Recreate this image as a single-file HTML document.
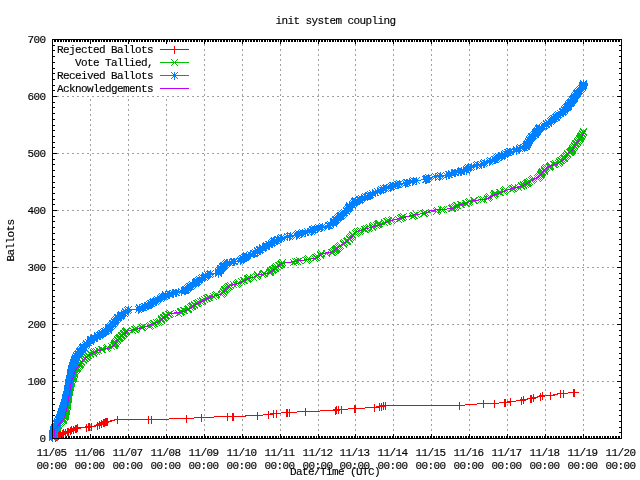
<!DOCTYPE html>
<html><head><meta charset="utf-8"><title>init system coupling</title>
<style>
html,body{margin:0;padding:0;background:#fff;}
body{width:640px;height:480px;position:relative;overflow:hidden;}
.t{position:absolute;font-family:"Liberation Mono",monospace;font-size:11px;line-height:13px;height:13px;color:#000;white-space:pre;letter-spacing:-0.6px;-webkit-text-stroke:0.15px #000;}
</style></head><body>
<svg width="640" height="480" viewBox="0 0 640 480" style="position:absolute;left:0;top:0" shape-rendering="crispEdges">
<rect x="0" y="0" width="640" height="480" fill="#fff"/>
<path d="M90.5 39V438M128.5 39V438M166.5 39V438M204.5 39V438M242.5 39V438M280.5 39V438M318.5 39V438M355.5 39V438M393.5 39V438M431.5 39V438M469.5 39V438M507.5 39V438M545.5 39V438M583.5 39V438" stroke="#a0a0a0" stroke-width="1" fill="none" stroke-dasharray="2 3"/>
<path d="M52 381.5H621M52 324.5H621M52 267.5H621M52 210.5H621M52 153.5H621M52 96.5H621" stroke="#a0a0a0" stroke-width="1" fill="none" stroke-dasharray="2 3"/>
<rect x="53" y="40" width="147" height="56" fill="#fff"/>
<path d="M52.5 40v4M52.5 434v4M54.5 40v2M54.5 436v2M55.5 40v2M55.5 436v2M57.5 40v2M57.5 436v2M58.5 40v2M58.5 436v2M60.5 40v2M60.5 436v2M61.5 40v2M61.5 436v2M63.5 40v2M63.5 436v2M65.5 40v2M65.5 436v2M66.5 40v2M66.5 436v2M68.5 40v2M68.5 436v2M69.5 40v2M69.5 436v2M71.5 40v2M71.5 436v2M73.5 40v2M73.5 436v2M74.5 40v2M74.5 436v2M76.5 40v2M76.5 436v2M77.5 40v2M77.5 436v2M79.5 40v2M79.5 436v2M80.5 40v2M80.5 436v2M82.5 40v2M82.5 436v2M84.5 40v2M84.5 436v2M85.5 40v2M85.5 436v2M87.5 40v2M87.5 436v2M88.5 40v2M88.5 436v2M90.5 40v4M90.5 434v4M92.5 40v2M92.5 436v2M93.5 40v2M93.5 436v2M95.5 40v2M95.5 436v2M96.5 40v2M96.5 436v2M98.5 40v2M98.5 436v2M99.5 40v2M99.5 436v2M101.5 40v2M101.5 436v2M103.5 40v2M103.5 436v2M104.5 40v2M104.5 436v2M106.5 40v2M106.5 436v2M107.5 40v2M107.5 436v2M109.5 40v2M109.5 436v2M110.5 40v2M110.5 436v2M112.5 40v2M112.5 436v2M114.5 40v2M114.5 436v2M115.5 40v2M115.5 436v2M117.5 40v2M117.5 436v2M118.5 40v2M118.5 436v2M120.5 40v2M120.5 436v2M122.5 40v2M122.5 436v2M123.5 40v2M123.5 436v2M125.5 40v2M125.5 436v2M126.5 40v2M126.5 436v2M128.5 40v4M128.5 434v4M129.5 40v2M129.5 436v2M131.5 40v2M131.5 436v2M133.5 40v2M133.5 436v2M134.5 40v2M134.5 436v2M136.5 40v2M136.5 436v2M137.5 40v2M137.5 436v2M139.5 40v2M139.5 436v2M141.5 40v2M141.5 436v2M142.5 40v2M142.5 436v2M144.5 40v2M144.5 436v2M145.5 40v2M145.5 436v2M147.5 40v2M147.5 436v2M148.5 40v2M148.5 436v2M150.5 40v2M150.5 436v2M152.5 40v2M152.5 436v2M153.5 40v2M153.5 436v2M155.5 40v2M155.5 436v2M156.5 40v2M156.5 436v2M158.5 40v2M158.5 436v2M159.5 40v2M159.5 436v2M161.5 40v2M161.5 436v2M163.5 40v2M163.5 436v2M164.5 40v2M164.5 436v2M166.5 40v4M166.5 434v4M167.5 40v2M167.5 436v2M169.5 40v2M169.5 436v2M171.5 40v2M171.5 436v2M172.5 40v2M172.5 436v2M174.5 40v2M174.5 436v2M175.5 40v2M175.5 436v2M177.5 40v2M177.5 436v2M178.5 40v2M178.5 436v2M180.5 40v2M180.5 436v2M182.5 40v2M182.5 436v2M183.5 40v2M183.5 436v2M185.5 40v2M185.5 436v2M186.5 40v2M186.5 436v2M188.5 40v2M188.5 436v2M190.5 40v2M190.5 436v2M191.5 40v2M191.5 436v2M193.5 40v2M193.5 436v2M194.5 40v2M194.5 436v2M196.5 40v2M196.5 436v2M197.5 40v2M197.5 436v2M199.5 40v2M199.5 436v2M201.5 40v2M201.5 436v2M202.5 40v2M202.5 436v2M204.5 40v4M204.5 434v4M205.5 40v2M205.5 436v2M207.5 40v2M207.5 436v2M208.5 40v2M208.5 436v2M210.5 40v2M210.5 436v2M212.5 40v2M212.5 436v2M213.5 40v2M213.5 436v2M215.5 40v2M215.5 436v2M216.5 40v2M216.5 436v2M218.5 40v2M218.5 436v2M220.5 40v2M220.5 436v2M221.5 40v2M221.5 436v2M223.5 40v2M223.5 436v2M224.5 40v2M224.5 436v2M226.5 40v2M226.5 436v2M227.5 40v2M227.5 436v2M229.5 40v2M229.5 436v2M231.5 40v2M231.5 436v2M232.5 40v2M232.5 436v2M234.5 40v2M234.5 436v2M235.5 40v2M235.5 436v2M237.5 40v2M237.5 436v2M239.5 40v2M239.5 436v2M240.5 40v2M240.5 436v2M242.5 40v4M242.5 434v4M243.5 40v2M243.5 436v2M245.5 40v2M245.5 436v2M246.5 40v2M246.5 436v2M248.5 40v2M248.5 436v2M250.5 40v2M250.5 436v2M251.5 40v2M251.5 436v2M253.5 40v2M253.5 436v2M254.5 40v2M254.5 436v2M256.5 40v2M256.5 436v2M257.5 40v2M257.5 436v2M259.5 40v2M259.5 436v2M261.5 40v2M261.5 436v2M262.5 40v2M262.5 436v2M264.5 40v2M264.5 436v2M265.5 40v2M265.5 436v2M267.5 40v2M267.5 436v2M269.5 40v2M269.5 436v2M270.5 40v2M270.5 436v2M272.5 40v2M272.5 436v2M273.5 40v2M273.5 436v2M275.5 40v2M275.5 436v2M276.5 40v2M276.5 436v2M278.5 40v2M278.5 436v2M280.5 40v4M280.5 434v4M281.5 40v2M281.5 436v2M283.5 40v2M283.5 436v2M284.5 40v2M284.5 436v2M286.5 40v2M286.5 436v2M288.5 40v2M288.5 436v2M289.5 40v2M289.5 436v2M291.5 40v2M291.5 436v2M292.5 40v2M292.5 436v2M294.5 40v2M294.5 436v2M295.5 40v2M295.5 436v2M297.5 40v2M297.5 436v2M299.5 40v2M299.5 436v2M300.5 40v2M300.5 436v2M302.5 40v2M302.5 436v2M303.5 40v2M303.5 436v2M305.5 40v2M305.5 436v2M306.5 40v2M306.5 436v2M308.5 40v2M308.5 436v2M310.5 40v2M310.5 436v2M311.5 40v2M311.5 436v2M313.5 40v2M313.5 436v2M314.5 40v2M314.5 436v2M316.5 40v2M316.5 436v2M318.5 40v4M318.5 434v4M319.5 40v2M319.5 436v2M321.5 40v2M321.5 436v2M322.5 40v2M322.5 436v2M324.5 40v2M324.5 436v2M325.5 40v2M325.5 436v2M327.5 40v2M327.5 436v2M329.5 40v2M329.5 436v2M330.5 40v2M330.5 436v2M332.5 40v2M332.5 436v2M333.5 40v2M333.5 436v2M335.5 40v2M335.5 436v2M337.5 40v2M337.5 436v2M338.5 40v2M338.5 436v2M340.5 40v2M340.5 436v2M341.5 40v2M341.5 436v2M343.5 40v2M343.5 436v2M344.5 40v2M344.5 436v2M346.5 40v2M346.5 436v2M348.5 40v2M348.5 436v2M349.5 40v2M349.5 436v2M351.5 40v2M351.5 436v2M352.5 40v2M352.5 436v2M354.5 40v2M354.5 436v2M355.5 40v4M355.5 434v4M357.5 40v2M357.5 436v2M359.5 40v2M359.5 436v2M360.5 40v2M360.5 436v2M362.5 40v2M362.5 436v2M363.5 40v2M363.5 436v2M365.5 40v2M365.5 436v2M367.5 40v2M367.5 436v2M368.5 40v2M368.5 436v2M370.5 40v2M370.5 436v2M371.5 40v2M371.5 436v2M373.5 40v2M373.5 436v2M374.5 40v2M374.5 436v2M376.5 40v2M376.5 436v2M378.5 40v2M378.5 436v2M379.5 40v2M379.5 436v2M381.5 40v2M381.5 436v2M382.5 40v2M382.5 436v2M384.5 40v2M384.5 436v2M385.5 40v2M385.5 436v2M387.5 40v2M387.5 436v2M389.5 40v2M389.5 436v2M390.5 40v2M390.5 436v2M392.5 40v2M392.5 436v2M393.5 40v4M393.5 434v4M395.5 40v2M395.5 436v2M397.5 40v2M397.5 436v2M398.5 40v2M398.5 436v2M400.5 40v2M400.5 436v2M401.5 40v2M401.5 436v2M403.5 40v2M403.5 436v2M404.5 40v2M404.5 436v2M406.5 40v2M406.5 436v2M408.5 40v2M408.5 436v2M409.5 40v2M409.5 436v2M411.5 40v2M411.5 436v2M412.5 40v2M412.5 436v2M414.5 40v2M414.5 436v2M416.5 40v2M416.5 436v2M417.5 40v2M417.5 436v2M419.5 40v2M419.5 436v2M420.5 40v2M420.5 436v2M422.5 40v2M422.5 436v2M423.5 40v2M423.5 436v2M425.5 40v2M425.5 436v2M427.5 40v2M427.5 436v2M428.5 40v2M428.5 436v2M430.5 40v2M430.5 436v2M431.5 40v4M431.5 434v4M433.5 40v2M433.5 436v2M434.5 40v2M434.5 436v2M436.5 40v2M436.5 436v2M438.5 40v2M438.5 436v2M439.5 40v2M439.5 436v2M441.5 40v2M441.5 436v2M442.5 40v2M442.5 436v2M444.5 40v2M444.5 436v2M446.5 40v2M446.5 436v2M447.5 40v2M447.5 436v2M449.5 40v2M449.5 436v2M450.5 40v2M450.5 436v2M452.5 40v2M452.5 436v2M453.5 40v2M453.5 436v2M455.5 40v2M455.5 436v2M457.5 40v2M457.5 436v2M458.5 40v2M458.5 436v2M460.5 40v2M460.5 436v2M461.5 40v2M461.5 436v2M463.5 40v2M463.5 436v2M465.5 40v2M465.5 436v2M466.5 40v2M466.5 436v2M468.5 40v2M468.5 436v2M469.5 40v4M469.5 434v4M471.5 40v2M471.5 436v2M472.5 40v2M472.5 436v2M474.5 40v2M474.5 436v2M476.5 40v2M476.5 436v2M477.5 40v2M477.5 436v2M479.5 40v2M479.5 436v2M480.5 40v2M480.5 436v2M482.5 40v2M482.5 436v2M483.5 40v2M483.5 436v2M485.5 40v2M485.5 436v2M487.5 40v2M487.5 436v2M488.5 40v2M488.5 436v2M490.5 40v2M490.5 436v2M491.5 40v2M491.5 436v2M493.5 40v2M493.5 436v2M495.5 40v2M495.5 436v2M496.5 40v2M496.5 436v2M498.5 40v2M498.5 436v2M499.5 40v2M499.5 436v2M501.5 40v2M501.5 436v2M502.5 40v2M502.5 436v2M504.5 40v2M504.5 436v2M506.5 40v2M506.5 436v2M507.5 40v4M507.5 434v4M509.5 40v2M509.5 436v2M510.5 40v2M510.5 436v2M512.5 40v2M512.5 436v2M514.5 40v2M514.5 436v2M515.5 40v2M515.5 436v2M517.5 40v2M517.5 436v2M518.5 40v2M518.5 436v2M520.5 40v2M520.5 436v2M521.5 40v2M521.5 436v2M523.5 40v2M523.5 436v2M525.5 40v2M525.5 436v2M526.5 40v2M526.5 436v2M528.5 40v2M528.5 436v2M529.5 40v2M529.5 436v2M531.5 40v2M531.5 436v2M532.5 40v2M532.5 436v2M534.5 40v2M534.5 436v2M536.5 40v2M536.5 436v2M537.5 40v2M537.5 436v2M539.5 40v2M539.5 436v2M540.5 40v2M540.5 436v2M542.5 40v2M542.5 436v2M544.5 40v2M544.5 436v2M545.5 40v4M545.5 434v4M547.5 40v2M547.5 436v2M548.5 40v2M548.5 436v2M550.5 40v2M550.5 436v2M551.5 40v2M551.5 436v2M553.5 40v2M553.5 436v2M555.5 40v2M555.5 436v2M556.5 40v2M556.5 436v2M558.5 40v2M558.5 436v2M559.5 40v2M559.5 436v2M561.5 40v2M561.5 436v2M563.5 40v2M563.5 436v2M564.5 40v2M564.5 436v2M566.5 40v2M566.5 436v2M567.5 40v2M567.5 436v2M569.5 40v2M569.5 436v2M570.5 40v2M570.5 436v2M572.5 40v2M572.5 436v2M574.5 40v2M574.5 436v2M575.5 40v2M575.5 436v2M577.5 40v2M577.5 436v2M578.5 40v2M578.5 436v2M580.5 40v2M580.5 436v2M581.5 40v2M581.5 436v2M583.5 40v4M583.5 434v4M585.5 40v2M585.5 436v2M586.5 40v2M586.5 436v2M588.5 40v2M588.5 436v2M589.5 40v2M589.5 436v2M591.5 40v2M591.5 436v2M593.5 40v2M593.5 436v2M594.5 40v2M594.5 436v2M596.5 40v2M596.5 436v2M597.5 40v2M597.5 436v2M599.5 40v2M599.5 436v2M600.5 40v2M600.5 436v2M602.5 40v2M602.5 436v2M604.5 40v2M604.5 436v2M605.5 40v2M605.5 436v2M607.5 40v2M607.5 436v2M608.5 40v2M608.5 436v2M610.5 40v2M610.5 436v2M612.5 40v2M612.5 436v2M613.5 40v2M613.5 436v2M615.5 40v2M615.5 436v2M616.5 40v2M616.5 436v2M618.5 40v2M618.5 436v2M619.5 40v2M619.5 436v2M621.5 40v4M621.5 434v4M53 438.5h4M617 438.5h4M53 432.5h2M619 432.5h2M53 427.5h2M619 427.5h2M53 421.5h2M619 421.5h2M53 415.5h2M619 415.5h2M53 410.5h2M619 410.5h2M53 404.5h2M619 404.5h2M53 398.5h2M619 398.5h2M53 392.5h2M619 392.5h2M53 387.5h2M619 387.5h2M53 381.5h4M617 381.5h4M53 375.5h2M619 375.5h2M53 370.5h2M619 370.5h2M53 364.5h2M619 364.5h2M53 358.5h2M619 358.5h2M53 353.5h2M619 353.5h2M53 347.5h2M619 347.5h2M53 341.5h2M619 341.5h2M53 335.5h2M619 335.5h2M53 330.5h2M619 330.5h2M53 324.5h4M617 324.5h4M53 318.5h2M619 318.5h2M53 313.5h2M619 313.5h2M53 307.5h2M619 307.5h2M53 301.5h2M619 301.5h2M53 296.5h2M619 296.5h2M53 290.5h2M619 290.5h2M53 284.5h2M619 284.5h2M53 278.5h2M619 278.5h2M53 273.5h2M619 273.5h2M53 267.5h4M617 267.5h4M53 261.5h2M619 261.5h2M53 256.5h2M619 256.5h2M53 250.5h2M619 250.5h2M53 244.5h2M619 244.5h2M53 239.5h2M619 239.5h2M53 233.5h2M619 233.5h2M53 227.5h2M619 227.5h2M53 221.5h2M619 221.5h2M53 216.5h2M619 216.5h2M53 210.5h4M617 210.5h4M53 204.5h2M619 204.5h2M53 199.5h2M619 199.5h2M53 193.5h2M619 193.5h2M53 187.5h2M619 187.5h2M53 182.5h2M619 182.5h2M53 176.5h2M619 176.5h2M53 170.5h2M619 170.5h2M53 164.5h2M619 164.5h2M53 159.5h2M619 159.5h2M53 153.5h4M617 153.5h4M53 147.5h2M619 147.5h2M53 142.5h2M619 142.5h2M53 136.5h2M619 136.5h2M53 130.5h2M619 130.5h2M53 125.5h2M619 125.5h2M53 119.5h2M619 119.5h2M53 113.5h2M619 113.5h2M53 107.5h2M619 107.5h2M53 102.5h2M619 102.5h2M53 96.5h4M617 96.5h4M53 90.5h2M619 90.5h2M53 85.5h2M619 85.5h2M53 79.5h2M619 79.5h2M53 73.5h2M619 73.5h2M53 68.5h2M619 68.5h2M53 62.5h2M619 62.5h2M53 56.5h2M619 56.5h2M53 50.5h2M619 50.5h2M53 45.5h2M619 45.5h2M53 39.5h4M617 39.5h4" stroke="#000" stroke-width="1" fill="none"/>
<path d="M55.5 437.5 L56.5 436.5 L57.5 435.5 L58.5 435.5 L59.5 434.5 L60.5 434.5 L62.5 433.5 L63.5 432.5 L65.5 432.5 L67.5 431.5 L68.5 431.5 L70.5 430.5 L71.5 429.5 L73.5 429.5 L75.5 428.5 L76.5 428.5 L77.5 427.5 L86.5 427.5 L88.5 426.5 L89.5 426.5 L91.5 426.5 L97.5 425.5 L99.5 424.5 L101.5 423.5 L103.5 422.5 L104.5 422.5 L105.5 421.5 L106.5 421.5 L107.5 421.5 L117.5 419.5 L148.5 419.5 L151.5 419.5 L186.5 418.5 L201.5 417.5 L227.5 416.5 L232.5 416.5 L233.5 416.5 L257.5 415.5 L268.5 414.5 L273.5 413.5 L276.5 413.5 L286.5 412.5 L287.5 412.5 L289.5 412.5 L305.5 411.5 L335.5 410.5 L336.5 409.5 L338.5 409.5 L341.5 409.5 L354.5 408.5 L355.5 408.5 L374.5 407.5 L379.5 406.5 L381.5 406.5 L383.5 405.5 L385.5 405.5 L459.5 405.5 L483.5 403.5 L494.5 403.5 L504.5 402.5 L505.5 402.5 L510.5 401.5 L521.5 400.5 L523.5 399.5 L530.5 398.5 L531.5 398.5 L533.5 397.5 L540.5 396.5 L542.5 395.5 L550.5 395.5 L560.5 393.5 L563.5 393.5 L573.5 392.5 L574.5 392.5" stroke="#ff0000" stroke-width="1" fill="none"/>
<path d="M52 437.5h7M55.5 434v7M53 436.5h7M56.5 433v7M54 435.5h7M57.5 432v7M55 435.5h7M58.5 432v7M56 434.5h7M59.5 431v7M57 434.5h7M60.5 431v7M59 433.5h7M62.5 430v7M60 432.5h7M63.5 429v7M62 432.5h7M65.5 429v7M64 431.5h7M67.5 428v7M65 431.5h7M68.5 428v7M67 430.5h7M70.5 427v7M68 429.5h7M71.5 426v7M70 429.5h7M73.5 426v7M72 428.5h7M75.5 425v7M73 428.5h7M76.5 425v7M74 427.5h7M77.5 424v7M83 427.5h7M86.5 424v7M85 426.5h7M88.5 423v7M86 426.5h7M89.5 423v7M88 426.5h7M91.5 423v7M94 425.5h7M97.5 422v7M96 424.5h7M99.5 421v7M98 423.5h7M101.5 420v7M100 422.5h7M103.5 419v7M101 422.5h7M104.5 419v7M102 421.5h7M105.5 418v7M103 421.5h7M106.5 418v7M104 421.5h7M107.5 418v7M114 419.5h7M117.5 416v7M145 419.5h7M148.5 416v7M148 419.5h7M151.5 416v7M183 418.5h7M186.5 415v7M198 417.5h7M201.5 414v7M224 416.5h7M227.5 413v7M229 416.5h7M232.5 413v7M230 416.5h7M233.5 413v7M254 415.5h7M257.5 412v7M265 414.5h7M268.5 411v7M270 413.5h7M273.5 410v7M273 413.5h7M276.5 410v7M283 412.5h7M286.5 409v7M284 412.5h7M287.5 409v7M286 412.5h7M289.5 409v7M302 411.5h7M305.5 408v7M332 410.5h7M335.5 407v7M333 409.5h7M336.5 406v7M335 409.5h7M338.5 406v7M338 409.5h7M341.5 406v7M351 408.5h7M354.5 405v7M352 408.5h7M355.5 405v7M371 407.5h7M374.5 404v7M376 406.5h7M379.5 403v7M378 406.5h7M381.5 403v7M380 405.5h7M383.5 402v7M382 405.5h7M385.5 402v7M456 405.5h7M459.5 402v7M480 403.5h7M483.5 400v7M491 403.5h7M494.5 400v7M501 402.5h7M504.5 399v7M502 402.5h7M505.5 399v7M507 401.5h7M510.5 398v7M518 400.5h7M521.5 397v7M520 399.5h7M523.5 396v7M527 398.5h7M530.5 395v7M528 398.5h7M531.5 395v7M530 397.5h7M533.5 394v7M537 396.5h7M540.5 393v7M539 395.5h7M542.5 392v7M547 395.5h7M550.5 392v7M557 393.5h7M560.5 390v7M560 393.5h7M563.5 390v7M570 392.5h7M573.5 389v7M571 392.5h7M574.5 389v7" stroke="#ff0000" stroke-width="1" fill="none" stroke-linecap="square"/>
<path d="M54.5 437.5 L54.5 436.5 L54.5 435.5 L54.5 434.5 L54.5 433.5 L54.5 432.5 L54.5 431.5 L54.5 430.5 L54.5 429.5 L55.5 428.5 L56.5 427.5 L57.5 427.5 L57.5 426.5 L57.5 425.5 L58.5 425.5 L58.5 424.5 L59.5 423.5 L60.5 422.5 L61.5 421.5 L62.5 420.5 L63.5 420.5 L63.5 419.5 L63.5 418.5 L64.5 417.5 L64.5 416.5 L65.5 416.5 L65.5 415.5 L65.5 414.5 L65.5 413.5 L65.5 412.5 L65.5 411.5 L66.5 411.5 L66.5 410.5 L66.5 409.5 L66.5 408.5 L66.5 407.5 L67.5 406.5 L67.5 405.5 L67.5 404.5 L67.5 403.5 L67.5 402.5 L67.5 401.5 L67.5 400.5 L68.5 399.5 L68.5 398.5 L68.5 397.5 L68.5 396.5 L68.5 395.5 L68.5 394.5 L68.5 393.5 L69.5 392.5 L69.5 391.5 L69.5 390.5 L69.5 389.5 L69.5 388.5 L69.5 387.5 L70.5 387.5 L70.5 386.5 L70.5 385.5 L70.5 384.5 L70.5 383.5 L71.5 383.5 L71.5 382.5 L71.5 381.5 L71.5 380.5 L72.5 379.5 L72.5 378.5 L73.5 378.5 L73.5 377.5 L73.5 376.5 L73.5 375.5 L74.5 374.5 L74.5 373.5 L74.5 372.5 L74.5 371.5 L75.5 370.5 L76.5 369.5 L76.5 368.5 L77.5 368.5 L77.5 367.5 L78.5 366.5 L79.5 365.5 L79.5 364.5 L80.5 364.5 L80.5 363.5 L81.5 362.5 L81.5 361.5 L83.5 360.5 L83.5 359.5 L84.5 358.5 L85.5 358.5 L86.5 357.5 L86.5 356.5 L87.5 355.5 L88.5 355.5 L90.5 354.5 L90.5 353.5 L93.5 353.5 L93.5 352.5 L94.5 351.5 L96.5 351.5 L98.5 350.5 L101.5 349.5 L102.5 349.5 L106.5 348.5 L107.5 347.5 L111.5 346.5 L113.5 345.5 L114.5 345.5 L114.5 344.5 L114.5 343.5 L115.5 343.5 L115.5 342.5 L116.5 341.5 L117.5 340.5 L117.5 339.5 L118.5 338.5 L119.5 338.5 L119.5 337.5 L120.5 337.5 L121.5 336.5 L121.5 335.5 L122.5 335.5 L123.5 334.5 L123.5 333.5 L124.5 333.5 L125.5 332.5 L125.5 331.5 L126.5 331.5 L126.5 330.5 L132.5 330.5 L134.5 329.5 L135.5 329.5 L136.5 328.5 L141.5 327.5 L142.5 327.5 L143.5 326.5 L149.5 326.5 L150.5 325.5 L152.5 324.5 L153.5 323.5 L154.5 323.5 L156.5 322.5 L158.5 322.5 L159.5 321.5 L161.5 320.5 L161.5 319.5 L161.5 318.5 L163.5 318.5 L163.5 317.5 L164.5 317.5 L165.5 316.5 L165.5 315.5 L166.5 315.5 L168.5 314.5 L169.5 314.5 L170.5 313.5 L178.5 313.5 L180.5 312.5 L180.5 311.5 L181.5 311.5 L183.5 310.5 L184.5 310.5 L187.5 309.5 L188.5 309.5 L188.5 308.5 L190.5 307.5 L191.5 306.5 L192.5 306.5 L192.5 305.5 L194.5 305.5 L194.5 304.5 L196.5 303.5 L197.5 303.5 L198.5 302.5 L200.5 301.5 L202.5 301.5 L202.5 300.5 L204.5 299.5 L206.5 298.5 L207.5 298.5 L208.5 297.5 L209.5 297.5 L213.5 296.5 L215.5 295.5 L216.5 294.5 L221.5 294.5 L222.5 293.5 L223.5 292.5 L223.5 291.5 L224.5 290.5 L224.5 289.5 L225.5 289.5 L226.5 288.5 L227.5 287.5 L228.5 286.5 L229.5 286.5 L230.5 285.5 L233.5 284.5 L236.5 284.5 L237.5 283.5 L238.5 282.5 L241.5 281.5 L243.5 280.5 L244.5 280.5 L247.5 279.5 L247.5 278.5 L248.5 278.5 L249.5 277.5 L253.5 277.5 L256.5 276.5 L257.5 275.5 L257.5 274.5 L262.5 274.5 L263.5 273.5 L264.5 273.5 L269.5 272.5 L270.5 272.5 L270.5 271.5 L270.5 270.5 L272.5 270.5 L272.5 269.5 L273.5 269.5 L274.5 268.5 L275.5 268.5 L275.5 267.5 L276.5 266.5 L278.5 265.5 L279.5 265.5 L280.5 264.5 L281.5 264.5 L281.5 263.5 L282.5 262.5 L293.5 262.5 L295.5 261.5 L297.5 261.5 L299.5 260.5 L306.5 260.5 L307.5 259.5 L308.5 258.5 L314.5 258.5 L315.5 257.5 L316.5 257.5 L317.5 256.5 L320.5 255.5 L320.5 254.5 L321.5 253.5 L326.5 253.5 L331.5 252.5 L332.5 252.5 L333.5 251.5 L334.5 250.5 L335.5 250.5 L335.5 249.5 L336.5 249.5 L336.5 248.5 L337.5 248.5 L338.5 247.5 L339.5 246.5 L340.5 245.5 L343.5 244.5 L343.5 243.5 L344.5 242.5 L346.5 241.5 L347.5 241.5 L347.5 240.5 L349.5 239.5 L349.5 238.5 L350.5 237.5 L351.5 236.5 L352.5 235.5 L352.5 234.5 L355.5 233.5 L356.5 232.5 L357.5 231.5 L359.5 231.5 L360.5 230.5 L364.5 229.5 L365.5 229.5 L366.5 228.5 L368.5 228.5 L369.5 227.5 L372.5 227.5 L372.5 226.5 L373.5 225.5 L376.5 225.5 L377.5 224.5 L378.5 224.5 L378.5 223.5 L379.5 223.5 L384.5 222.5 L386.5 221.5 L387.5 221.5 L388.5 220.5 L391.5 220.5 L392.5 219.5 L398.5 219.5 L400.5 218.5 L401.5 217.5 L402.5 217.5 L403.5 216.5 L412.5 216.5 L413.5 215.5 L414.5 215.5 L416.5 214.5 L423.5 213.5 L424.5 213.5 L425.5 212.5 L436.5 211.5 L437.5 210.5 L441.5 209.5 L443.5 209.5 L451.5 208.5 L452.5 208.5 L452.5 207.5 L454.5 207.5 L455.5 206.5 L456.5 205.5 L457.5 205.5 L460.5 204.5 L461.5 204.5 L465.5 203.5 L466.5 203.5 L468.5 202.5 L469.5 201.5 L473.5 200.5 L474.5 200.5 L481.5 199.5 L483.5 199.5 L487.5 198.5 L488.5 197.5 L489.5 196.5 L493.5 195.5 L494.5 194.5 L494.5 193.5 L495.5 193.5 L499.5 192.5 L500.5 192.5 L503.5 191.5 L504.5 190.5 L505.5 189.5 L511.5 189.5 L512.5 188.5 L513.5 188.5 L514.5 187.5 L518.5 187.5 L521.5 186.5 L521.5 185.5 L523.5 185.5 L523.5 184.5 L525.5 184.5 L526.5 183.5 L527.5 183.5 L527.5 182.5 L528.5 182.5 L529.5 181.5 L531.5 180.5 L532.5 179.5 L533.5 178.5 L537.5 178.5 L538.5 177.5 L539.5 176.5 L540.5 175.5 L540.5 174.5 L541.5 174.5 L541.5 173.5 L541.5 172.5 L542.5 172.5 L542.5 171.5 L544.5 171.5 L544.5 170.5 L544.5 169.5 L545.5 168.5 L546.5 167.5 L549.5 167.5 L549.5 166.5 L550.5 166.5 L550.5 165.5 L553.5 164.5 L554.5 164.5 L555.5 163.5 L558.5 163.5 L559.5 162.5 L559.5 161.5 L560.5 160.5 L561.5 160.5 L562.5 159.5 L563.5 158.5 L564.5 158.5 L564.5 157.5 L565.5 156.5 L566.5 155.5 L567.5 154.5 L567.5 153.5 L569.5 152.5 L570.5 152.5 L570.5 151.5 L571.5 151.5 L571.5 150.5 L572.5 150.5 L572.5 149.5 L572.5 148.5 L573.5 147.5 L574.5 146.5 L574.5 145.5 L575.5 144.5 L575.5 143.5 L576.5 143.5 L577.5 142.5 L577.5 141.5 L578.5 140.5 L579.5 139.5 L579.5 138.5 L580.5 138.5 L580.5 137.5 L580.5 136.5 L581.5 136.5 L581.5 135.5 L582.5 134.5 L582.5 133.5 L583.5 132.5 L583.5 131.5" stroke="#00c000" stroke-width="1" fill="none"/>
<path d="M51.5 434.5l6 6M51.5 440.5l6 -6M51.5 433.5l6 6M51.5 439.5l6 -6M51.5 432.5l6 6M51.5 438.5l6 -6M51.5 431.5l6 6M51.5 437.5l6 -6M51.5 430.5l6 6M51.5 436.5l6 -6M51.5 429.5l6 6M51.5 435.5l6 -6M51.5 428.5l6 6M51.5 434.5l6 -6M51.5 427.5l6 6M51.5 433.5l6 -6M51.5 426.5l6 6M51.5 432.5l6 -6M52.5 425.5l6 6M52.5 431.5l6 -6M53.5 424.5l6 6M53.5 430.5l6 -6M54.5 424.5l6 6M54.5 430.5l6 -6M54.5 423.5l6 6M54.5 429.5l6 -6M54.5 422.5l6 6M54.5 428.5l6 -6M55.5 422.5l6 6M55.5 428.5l6 -6M55.5 421.5l6 6M55.5 427.5l6 -6M56.5 420.5l6 6M56.5 426.5l6 -6M57.5 419.5l6 6M57.5 425.5l6 -6M58.5 418.5l6 6M58.5 424.5l6 -6M59.5 417.5l6 6M59.5 423.5l6 -6M60.5 417.5l6 6M60.5 423.5l6 -6M60.5 416.5l6 6M60.5 422.5l6 -6M60.5 415.5l6 6M60.5 421.5l6 -6M61.5 414.5l6 6M61.5 420.5l6 -6M61.5 413.5l6 6M61.5 419.5l6 -6M62.5 413.5l6 6M62.5 419.5l6 -6M62.5 412.5l6 6M62.5 418.5l6 -6M62.5 411.5l6 6M62.5 417.5l6 -6M62.5 410.5l6 6M62.5 416.5l6 -6M62.5 409.5l6 6M62.5 415.5l6 -6M62.5 408.5l6 6M62.5 414.5l6 -6M63.5 408.5l6 6M63.5 414.5l6 -6M63.5 407.5l6 6M63.5 413.5l6 -6M63.5 406.5l6 6M63.5 412.5l6 -6M63.5 405.5l6 6M63.5 411.5l6 -6M63.5 404.5l6 6M63.5 410.5l6 -6M64.5 403.5l6 6M64.5 409.5l6 -6M64.5 402.5l6 6M64.5 408.5l6 -6M64.5 401.5l6 6M64.5 407.5l6 -6M64.5 400.5l6 6M64.5 406.5l6 -6M64.5 399.5l6 6M64.5 405.5l6 -6M64.5 398.5l6 6M64.5 404.5l6 -6M64.5 397.5l6 6M64.5 403.5l6 -6M65.5 396.5l6 6M65.5 402.5l6 -6M65.5 395.5l6 6M65.5 401.5l6 -6M65.5 394.5l6 6M65.5 400.5l6 -6M65.5 393.5l6 6M65.5 399.5l6 -6M65.5 392.5l6 6M65.5 398.5l6 -6M65.5 391.5l6 6M65.5 397.5l6 -6M65.5 390.5l6 6M65.5 396.5l6 -6M66.5 389.5l6 6M66.5 395.5l6 -6M66.5 388.5l6 6M66.5 394.5l6 -6M66.5 387.5l6 6M66.5 393.5l6 -6M66.5 386.5l6 6M66.5 392.5l6 -6M66.5 385.5l6 6M66.5 391.5l6 -6M66.5 384.5l6 6M66.5 390.5l6 -6M67.5 384.5l6 6M67.5 390.5l6 -6M67.5 383.5l6 6M67.5 389.5l6 -6M67.5 382.5l6 6M67.5 388.5l6 -6M67.5 381.5l6 6M67.5 387.5l6 -6M67.5 380.5l6 6M67.5 386.5l6 -6M68.5 380.5l6 6M68.5 386.5l6 -6M68.5 379.5l6 6M68.5 385.5l6 -6M68.5 378.5l6 6M68.5 384.5l6 -6M68.5 377.5l6 6M68.5 383.5l6 -6M69.5 376.5l6 6M69.5 382.5l6 -6M69.5 375.5l6 6M69.5 381.5l6 -6M70.5 375.5l6 6M70.5 381.5l6 -6M70.5 374.5l6 6M70.5 380.5l6 -6M70.5 373.5l6 6M70.5 379.5l6 -6M70.5 372.5l6 6M70.5 378.5l6 -6M71.5 371.5l6 6M71.5 377.5l6 -6M71.5 370.5l6 6M71.5 376.5l6 -6M71.5 369.5l6 6M71.5 375.5l6 -6M71.5 368.5l6 6M71.5 374.5l6 -6M72.5 367.5l6 6M72.5 373.5l6 -6M73.5 366.5l6 6M73.5 372.5l6 -6M73.5 365.5l6 6M73.5 371.5l6 -6M74.5 365.5l6 6M74.5 371.5l6 -6M74.5 364.5l6 6M74.5 370.5l6 -6M75.5 363.5l6 6M75.5 369.5l6 -6M76.5 362.5l6 6M76.5 368.5l6 -6M76.5 361.5l6 6M76.5 367.5l6 -6M77.5 361.5l6 6M77.5 367.5l6 -6M77.5 360.5l6 6M77.5 366.5l6 -6M78.5 359.5l6 6M78.5 365.5l6 -6M78.5 358.5l6 6M78.5 364.5l6 -6M80.5 357.5l6 6M80.5 363.5l6 -6M80.5 356.5l6 6M80.5 362.5l6 -6M81.5 355.5l6 6M81.5 361.5l6 -6M82.5 355.5l6 6M82.5 361.5l6 -6M83.5 354.5l6 6M83.5 360.5l6 -6M83.5 353.5l6 6M83.5 359.5l6 -6M84.5 352.5l6 6M84.5 358.5l6 -6M85.5 352.5l6 6M85.5 358.5l6 -6M87.5 351.5l6 6M87.5 357.5l6 -6M87.5 350.5l6 6M87.5 356.5l6 -6M90.5 350.5l6 6M90.5 356.5l6 -6M90.5 349.5l6 6M90.5 355.5l6 -6M91.5 348.5l6 6M91.5 354.5l6 -6M93.5 348.5l6 6M93.5 354.5l6 -6M95.5 347.5l6 6M95.5 353.5l6 -6M98.5 346.5l6 6M98.5 352.5l6 -6M99.5 346.5l6 6M99.5 352.5l6 -6M103.5 345.5l6 6M103.5 351.5l6 -6M104.5 344.5l6 6M104.5 350.5l6 -6M108.5 343.5l6 6M108.5 349.5l6 -6M110.5 342.5l6 6M110.5 348.5l6 -6M111.5 342.5l6 6M111.5 348.5l6 -6M111.5 341.5l6 6M111.5 347.5l6 -6M111.5 340.5l6 6M111.5 346.5l6 -6M112.5 340.5l6 6M112.5 346.5l6 -6M112.5 339.5l6 6M112.5 345.5l6 -6M113.5 338.5l6 6M113.5 344.5l6 -6M114.5 337.5l6 6M114.5 343.5l6 -6M114.5 336.5l6 6M114.5 342.5l6 -6M115.5 335.5l6 6M115.5 341.5l6 -6M116.5 335.5l6 6M116.5 341.5l6 -6M116.5 334.5l6 6M116.5 340.5l6 -6M117.5 334.5l6 6M117.5 340.5l6 -6M118.5 333.5l6 6M118.5 339.5l6 -6M118.5 332.5l6 6M118.5 338.5l6 -6M119.5 332.5l6 6M119.5 338.5l6 -6M120.5 331.5l6 6M120.5 337.5l6 -6M120.5 330.5l6 6M120.5 336.5l6 -6M121.5 330.5l6 6M121.5 336.5l6 -6M122.5 329.5l6 6M122.5 335.5l6 -6M122.5 328.5l6 6M122.5 334.5l6 -6M123.5 328.5l6 6M123.5 334.5l6 -6M123.5 327.5l6 6M123.5 333.5l6 -6M129.5 327.5l6 6M129.5 333.5l6 -6M131.5 326.5l6 6M131.5 332.5l6 -6M132.5 326.5l6 6M132.5 332.5l6 -6M133.5 325.5l6 6M133.5 331.5l6 -6M138.5 324.5l6 6M138.5 330.5l6 -6M139.5 324.5l6 6M139.5 330.5l6 -6M140.5 323.5l6 6M140.5 329.5l6 -6M146.5 323.5l6 6M146.5 329.5l6 -6M147.5 322.5l6 6M147.5 328.5l6 -6M149.5 321.5l6 6M149.5 327.5l6 -6M150.5 320.5l6 6M150.5 326.5l6 -6M151.5 320.5l6 6M151.5 326.5l6 -6M153.5 319.5l6 6M153.5 325.5l6 -6M155.5 319.5l6 6M155.5 325.5l6 -6M156.5 318.5l6 6M156.5 324.5l6 -6M158.5 317.5l6 6M158.5 323.5l6 -6M158.5 316.5l6 6M158.5 322.5l6 -6M158.5 315.5l6 6M158.5 321.5l6 -6M160.5 315.5l6 6M160.5 321.5l6 -6M160.5 314.5l6 6M160.5 320.5l6 -6M161.5 314.5l6 6M161.5 320.5l6 -6M162.5 313.5l6 6M162.5 319.5l6 -6M162.5 312.5l6 6M162.5 318.5l6 -6M163.5 312.5l6 6M163.5 318.5l6 -6M165.5 311.5l6 6M165.5 317.5l6 -6M166.5 311.5l6 6M166.5 317.5l6 -6M167.5 310.5l6 6M167.5 316.5l6 -6M175.5 310.5l6 6M175.5 316.5l6 -6M177.5 309.5l6 6M177.5 315.5l6 -6M177.5 308.5l6 6M177.5 314.5l6 -6M178.5 308.5l6 6M178.5 314.5l6 -6M180.5 307.5l6 6M180.5 313.5l6 -6M181.5 307.5l6 6M181.5 313.5l6 -6M184.5 306.5l6 6M184.5 312.5l6 -6M185.5 306.5l6 6M185.5 312.5l6 -6M185.5 305.5l6 6M185.5 311.5l6 -6M187.5 304.5l6 6M187.5 310.5l6 -6M188.5 303.5l6 6M188.5 309.5l6 -6M189.5 303.5l6 6M189.5 309.5l6 -6M189.5 302.5l6 6M189.5 308.5l6 -6M191.5 302.5l6 6M191.5 308.5l6 -6M191.5 301.5l6 6M191.5 307.5l6 -6M193.5 300.5l6 6M193.5 306.5l6 -6M194.5 300.5l6 6M194.5 306.5l6 -6M195.5 299.5l6 6M195.5 305.5l6 -6M197.5 298.5l6 6M197.5 304.5l6 -6M199.5 298.5l6 6M199.5 304.5l6 -6M199.5 297.5l6 6M199.5 303.5l6 -6M201.5 296.5l6 6M201.5 302.5l6 -6M203.5 295.5l6 6M203.5 301.5l6 -6M204.5 295.5l6 6M204.5 301.5l6 -6M205.5 294.5l6 6M205.5 300.5l6 -6M206.5 294.5l6 6M206.5 300.5l6 -6M210.5 293.5l6 6M210.5 299.5l6 -6M212.5 292.5l6 6M212.5 298.5l6 -6M213.5 291.5l6 6M213.5 297.5l6 -6M218.5 291.5l6 6M218.5 297.5l6 -6M219.5 290.5l6 6M219.5 296.5l6 -6M220.5 289.5l6 6M220.5 295.5l6 -6M220.5 288.5l6 6M220.5 294.5l6 -6M221.5 287.5l6 6M221.5 293.5l6 -6M221.5 286.5l6 6M221.5 292.5l6 -6M222.5 286.5l6 6M222.5 292.5l6 -6M223.5 285.5l6 6M223.5 291.5l6 -6M224.5 284.5l6 6M224.5 290.5l6 -6M225.5 283.5l6 6M225.5 289.5l6 -6M226.5 283.5l6 6M226.5 289.5l6 -6M227.5 282.5l6 6M227.5 288.5l6 -6M230.5 281.5l6 6M230.5 287.5l6 -6M233.5 281.5l6 6M233.5 287.5l6 -6M234.5 280.5l6 6M234.5 286.5l6 -6M235.5 279.5l6 6M235.5 285.5l6 -6M238.5 278.5l6 6M238.5 284.5l6 -6M240.5 277.5l6 6M240.5 283.5l6 -6M241.5 277.5l6 6M241.5 283.5l6 -6M244.5 276.5l6 6M244.5 282.5l6 -6M244.5 275.5l6 6M244.5 281.5l6 -6M245.5 275.5l6 6M245.5 281.5l6 -6M246.5 274.5l6 6M246.5 280.5l6 -6M250.5 274.5l6 6M250.5 280.5l6 -6M253.5 273.5l6 6M253.5 279.5l6 -6M254.5 272.5l6 6M254.5 278.5l6 -6M254.5 271.5l6 6M254.5 277.5l6 -6M259.5 271.5l6 6M259.5 277.5l6 -6M260.5 270.5l6 6M260.5 276.5l6 -6M261.5 270.5l6 6M261.5 276.5l6 -6M266.5 269.5l6 6M266.5 275.5l6 -6M267.5 269.5l6 6M267.5 275.5l6 -6M267.5 268.5l6 6M267.5 274.5l6 -6M267.5 267.5l6 6M267.5 273.5l6 -6M269.5 267.5l6 6M269.5 273.5l6 -6M269.5 266.5l6 6M269.5 272.5l6 -6M270.5 266.5l6 6M270.5 272.5l6 -6M271.5 265.5l6 6M271.5 271.5l6 -6M272.5 265.5l6 6M272.5 271.5l6 -6M272.5 264.5l6 6M272.5 270.5l6 -6M273.5 263.5l6 6M273.5 269.5l6 -6M275.5 262.5l6 6M275.5 268.5l6 -6M276.5 262.5l6 6M276.5 268.5l6 -6M277.5 261.5l6 6M277.5 267.5l6 -6M278.5 261.5l6 6M278.5 267.5l6 -6M278.5 260.5l6 6M278.5 266.5l6 -6M279.5 259.5l6 6M279.5 265.5l6 -6M290.5 259.5l6 6M290.5 265.5l6 -6M292.5 258.5l6 6M292.5 264.5l6 -6M294.5 258.5l6 6M294.5 264.5l6 -6M296.5 257.5l6 6M296.5 263.5l6 -6M303.5 257.5l6 6M303.5 263.5l6 -6M304.5 256.5l6 6M304.5 262.5l6 -6M305.5 255.5l6 6M305.5 261.5l6 -6M311.5 255.5l6 6M311.5 261.5l6 -6M312.5 254.5l6 6M312.5 260.5l6 -6M313.5 254.5l6 6M313.5 260.5l6 -6M314.5 253.5l6 6M314.5 259.5l6 -6M317.5 252.5l6 6M317.5 258.5l6 -6M317.5 251.5l6 6M317.5 257.5l6 -6M318.5 250.5l6 6M318.5 256.5l6 -6M323.5 250.5l6 6M323.5 256.5l6 -6M328.5 249.5l6 6M328.5 255.5l6 -6M329.5 249.5l6 6M329.5 255.5l6 -6M330.5 248.5l6 6M330.5 254.5l6 -6M331.5 247.5l6 6M331.5 253.5l6 -6M332.5 247.5l6 6M332.5 253.5l6 -6M332.5 246.5l6 6M332.5 252.5l6 -6M333.5 246.5l6 6M333.5 252.5l6 -6M333.5 245.5l6 6M333.5 251.5l6 -6M334.5 245.5l6 6M334.5 251.5l6 -6M335.5 244.5l6 6M335.5 250.5l6 -6M336.5 243.5l6 6M336.5 249.5l6 -6M337.5 242.5l6 6M337.5 248.5l6 -6M340.5 241.5l6 6M340.5 247.5l6 -6M340.5 240.5l6 6M340.5 246.5l6 -6M341.5 239.5l6 6M341.5 245.5l6 -6M343.5 238.5l6 6M343.5 244.5l6 -6M344.5 238.5l6 6M344.5 244.5l6 -6M344.5 237.5l6 6M344.5 243.5l6 -6M346.5 236.5l6 6M346.5 242.5l6 -6M346.5 235.5l6 6M346.5 241.5l6 -6M347.5 234.5l6 6M347.5 240.5l6 -6M348.5 233.5l6 6M348.5 239.5l6 -6M349.5 232.5l6 6M349.5 238.5l6 -6M349.5 231.5l6 6M349.5 237.5l6 -6M352.5 230.5l6 6M352.5 236.5l6 -6M353.5 229.5l6 6M353.5 235.5l6 -6M354.5 228.5l6 6M354.5 234.5l6 -6M356.5 228.5l6 6M356.5 234.5l6 -6M357.5 227.5l6 6M357.5 233.5l6 -6M361.5 226.5l6 6M361.5 232.5l6 -6M362.5 226.5l6 6M362.5 232.5l6 -6M363.5 225.5l6 6M363.5 231.5l6 -6M365.5 225.5l6 6M365.5 231.5l6 -6M366.5 224.5l6 6M366.5 230.5l6 -6M369.5 224.5l6 6M369.5 230.5l6 -6M369.5 223.5l6 6M369.5 229.5l6 -6M370.5 222.5l6 6M370.5 228.5l6 -6M373.5 222.5l6 6M373.5 228.5l6 -6M374.5 221.5l6 6M374.5 227.5l6 -6M375.5 221.5l6 6M375.5 227.5l6 -6M375.5 220.5l6 6M375.5 226.5l6 -6M376.5 220.5l6 6M376.5 226.5l6 -6M381.5 219.5l6 6M381.5 225.5l6 -6M383.5 218.5l6 6M383.5 224.5l6 -6M384.5 218.5l6 6M384.5 224.5l6 -6M385.5 217.5l6 6M385.5 223.5l6 -6M388.5 217.5l6 6M388.5 223.5l6 -6M389.5 216.5l6 6M389.5 222.5l6 -6M395.5 216.5l6 6M395.5 222.5l6 -6M397.5 215.5l6 6M397.5 221.5l6 -6M398.5 214.5l6 6M398.5 220.5l6 -6M399.5 214.5l6 6M399.5 220.5l6 -6M400.5 213.5l6 6M400.5 219.5l6 -6M409.5 213.5l6 6M409.5 219.5l6 -6M410.5 212.5l6 6M410.5 218.5l6 -6M411.5 212.5l6 6M411.5 218.5l6 -6M413.5 211.5l6 6M413.5 217.5l6 -6M420.5 210.5l6 6M420.5 216.5l6 -6M421.5 210.5l6 6M421.5 216.5l6 -6M422.5 209.5l6 6M422.5 215.5l6 -6M433.5 208.5l6 6M433.5 214.5l6 -6M434.5 207.5l6 6M434.5 213.5l6 -6M438.5 206.5l6 6M438.5 212.5l6 -6M440.5 206.5l6 6M440.5 212.5l6 -6M448.5 205.5l6 6M448.5 211.5l6 -6M449.5 205.5l6 6M449.5 211.5l6 -6M449.5 204.5l6 6M449.5 210.5l6 -6M451.5 204.5l6 6M451.5 210.5l6 -6M452.5 203.5l6 6M452.5 209.5l6 -6M453.5 202.5l6 6M453.5 208.5l6 -6M454.5 202.5l6 6M454.5 208.5l6 -6M457.5 201.5l6 6M457.5 207.5l6 -6M458.5 201.5l6 6M458.5 207.5l6 -6M462.5 200.5l6 6M462.5 206.5l6 -6M463.5 200.5l6 6M463.5 206.5l6 -6M465.5 199.5l6 6M465.5 205.5l6 -6M466.5 198.5l6 6M466.5 204.5l6 -6M470.5 197.5l6 6M470.5 203.5l6 -6M471.5 197.5l6 6M471.5 203.5l6 -6M478.5 196.5l6 6M478.5 202.5l6 -6M480.5 196.5l6 6M480.5 202.5l6 -6M484.5 195.5l6 6M484.5 201.5l6 -6M485.5 194.5l6 6M485.5 200.5l6 -6M486.5 193.5l6 6M486.5 199.5l6 -6M490.5 192.5l6 6M490.5 198.5l6 -6M491.5 191.5l6 6M491.5 197.5l6 -6M491.5 190.5l6 6M491.5 196.5l6 -6M492.5 190.5l6 6M492.5 196.5l6 -6M496.5 189.5l6 6M496.5 195.5l6 -6M497.5 189.5l6 6M497.5 195.5l6 -6M500.5 188.5l6 6M500.5 194.5l6 -6M501.5 187.5l6 6M501.5 193.5l6 -6M502.5 186.5l6 6M502.5 192.5l6 -6M508.5 186.5l6 6M508.5 192.5l6 -6M509.5 185.5l6 6M509.5 191.5l6 -6M510.5 185.5l6 6M510.5 191.5l6 -6M511.5 184.5l6 6M511.5 190.5l6 -6M515.5 184.5l6 6M515.5 190.5l6 -6M518.5 183.5l6 6M518.5 189.5l6 -6M518.5 182.5l6 6M518.5 188.5l6 -6M520.5 182.5l6 6M520.5 188.5l6 -6M520.5 181.5l6 6M520.5 187.5l6 -6M522.5 181.5l6 6M522.5 187.5l6 -6M523.5 180.5l6 6M523.5 186.5l6 -6M524.5 180.5l6 6M524.5 186.5l6 -6M524.5 179.5l6 6M524.5 185.5l6 -6M525.5 179.5l6 6M525.5 185.5l6 -6M526.5 178.5l6 6M526.5 184.5l6 -6M528.5 177.5l6 6M528.5 183.5l6 -6M529.5 176.5l6 6M529.5 182.5l6 -6M530.5 175.5l6 6M530.5 181.5l6 -6M534.5 175.5l6 6M534.5 181.5l6 -6M535.5 174.5l6 6M535.5 180.5l6 -6M536.5 173.5l6 6M536.5 179.5l6 -6M537.5 172.5l6 6M537.5 178.5l6 -6M537.5 171.5l6 6M537.5 177.5l6 -6M538.5 171.5l6 6M538.5 177.5l6 -6M538.5 170.5l6 6M538.5 176.5l6 -6M538.5 169.5l6 6M538.5 175.5l6 -6M539.5 169.5l6 6M539.5 175.5l6 -6M539.5 168.5l6 6M539.5 174.5l6 -6M541.5 168.5l6 6M541.5 174.5l6 -6M541.5 167.5l6 6M541.5 173.5l6 -6M541.5 166.5l6 6M541.5 172.5l6 -6M542.5 165.5l6 6M542.5 171.5l6 -6M543.5 164.5l6 6M543.5 170.5l6 -6M546.5 164.5l6 6M546.5 170.5l6 -6M546.5 163.5l6 6M546.5 169.5l6 -6M547.5 163.5l6 6M547.5 169.5l6 -6M547.5 162.5l6 6M547.5 168.5l6 -6M550.5 161.5l6 6M550.5 167.5l6 -6M551.5 161.5l6 6M551.5 167.5l6 -6M552.5 160.5l6 6M552.5 166.5l6 -6M555.5 160.5l6 6M555.5 166.5l6 -6M556.5 159.5l6 6M556.5 165.5l6 -6M556.5 158.5l6 6M556.5 164.5l6 -6M557.5 157.5l6 6M557.5 163.5l6 -6M558.5 157.5l6 6M558.5 163.5l6 -6M559.5 156.5l6 6M559.5 162.5l6 -6M560.5 155.5l6 6M560.5 161.5l6 -6M561.5 155.5l6 6M561.5 161.5l6 -6M561.5 154.5l6 6M561.5 160.5l6 -6M562.5 153.5l6 6M562.5 159.5l6 -6M563.5 152.5l6 6M563.5 158.5l6 -6M564.5 151.5l6 6M564.5 157.5l6 -6M564.5 150.5l6 6M564.5 156.5l6 -6M566.5 149.5l6 6M566.5 155.5l6 -6M567.5 149.5l6 6M567.5 155.5l6 -6M567.5 148.5l6 6M567.5 154.5l6 -6M568.5 148.5l6 6M568.5 154.5l6 -6M568.5 147.5l6 6M568.5 153.5l6 -6M569.5 147.5l6 6M569.5 153.5l6 -6M569.5 146.5l6 6M569.5 152.5l6 -6M569.5 145.5l6 6M569.5 151.5l6 -6M570.5 144.5l6 6M570.5 150.5l6 -6M571.5 143.5l6 6M571.5 149.5l6 -6M571.5 142.5l6 6M571.5 148.5l6 -6M572.5 141.5l6 6M572.5 147.5l6 -6M572.5 140.5l6 6M572.5 146.5l6 -6M573.5 140.5l6 6M573.5 146.5l6 -6M574.5 139.5l6 6M574.5 145.5l6 -6M574.5 138.5l6 6M574.5 144.5l6 -6M575.5 137.5l6 6M575.5 143.5l6 -6M576.5 136.5l6 6M576.5 142.5l6 -6M576.5 135.5l6 6M576.5 141.5l6 -6M577.5 135.5l6 6M577.5 141.5l6 -6M577.5 134.5l6 6M577.5 140.5l6 -6M577.5 133.5l6 6M577.5 139.5l6 -6M578.5 133.5l6 6M578.5 139.5l6 -6M578.5 132.5l6 6M578.5 138.5l6 -6M579.5 131.5l6 6M579.5 137.5l6 -6M579.5 130.5l6 6M579.5 136.5l6 -6M580.5 129.5l6 6M580.5 135.5l6 -6M580.5 128.5l6 6M580.5 134.5l6 -6" stroke="#00c000" stroke-width="1" fill="none" stroke-linecap="square"/>
<path d="M52.5 437.5 L52.5 436.5 L52.5 435.5 L52.5 434.5 L52.5 433.5 L53.5 433.5 L53.5 432.5 L53.5 431.5 L53.5 430.5 L53.5 429.5 L54.5 429.5 L54.5 428.5 L54.5 427.5 L55.5 427.5 L55.5 426.5 L55.5 425.5 L56.5 424.5 L56.5 423.5 L57.5 423.5 L57.5 422.5 L57.5 421.5 L58.5 420.5 L58.5 419.5 L59.5 419.5 L59.5 418.5 L59.5 417.5 L60.5 416.5 L60.5 415.5 L60.5 414.5 L61.5 413.5 L61.5 412.5 L61.5 411.5 L62.5 410.5 L62.5 409.5 L62.5 408.5 L63.5 408.5 L63.5 407.5 L63.5 406.5 L63.5 405.5 L64.5 404.5 L64.5 403.5 L64.5 402.5 L65.5 402.5 L65.5 401.5 L65.5 400.5 L65.5 399.5 L65.5 398.5 L65.5 397.5 L66.5 396.5 L66.5 395.5 L66.5 394.5 L67.5 393.5 L67.5 392.5 L67.5 391.5 L67.5 390.5 L67.5 389.5 L67.5 388.5 L68.5 387.5 L68.5 386.5 L68.5 385.5 L68.5 384.5 L68.5 383.5 L68.5 382.5 L69.5 382.5 L69.5 381.5 L69.5 380.5 L69.5 379.5 L69.5 378.5 L70.5 377.5 L70.5 376.5 L70.5 375.5 L70.5 374.5 L70.5 373.5 L70.5 372.5 L71.5 372.5 L71.5 371.5 L71.5 370.5 L71.5 369.5 L71.5 368.5 L72.5 368.5 L72.5 367.5 L72.5 366.5 L72.5 365.5 L73.5 364.5 L73.5 363.5 L73.5 362.5 L74.5 362.5 L74.5 361.5 L74.5 360.5 L74.5 359.5 L75.5 359.5 L75.5 358.5 L75.5 357.5 L76.5 356.5 L76.5 355.5 L77.5 354.5 L78.5 354.5 L78.5 353.5 L79.5 352.5 L79.5 351.5 L80.5 351.5 L80.5 350.5 L81.5 349.5 L82.5 348.5 L82.5 347.5 L83.5 347.5 L83.5 346.5 L85.5 345.5 L86.5 344.5 L86.5 343.5 L88.5 342.5 L90.5 341.5 L90.5 340.5 L90.5 339.5 L91.5 339.5 L93.5 338.5 L94.5 338.5 L94.5 337.5 L97.5 336.5 L97.5 335.5 L99.5 335.5 L100.5 334.5 L101.5 333.5 L102.5 333.5 L103.5 332.5 L104.5 331.5 L105.5 331.5 L106.5 330.5 L108.5 330.5 L108.5 329.5 L108.5 328.5 L108.5 327.5 L109.5 327.5 L110.5 326.5 L111.5 325.5 L112.5 324.5 L112.5 323.5 L113.5 323.5 L114.5 322.5 L114.5 321.5 L115.5 320.5 L116.5 319.5 L117.5 318.5 L117.5 317.5 L118.5 317.5 L120.5 316.5 L120.5 315.5 L121.5 315.5 L121.5 314.5 L124.5 313.5 L125.5 312.5 L125.5 311.5 L127.5 310.5 L128.5 309.5 L138.5 309.5 L139.5 308.5 L139.5 307.5 L143.5 307.5 L144.5 306.5 L145.5 306.5 L147.5 305.5 L148.5 305.5 L149.5 304.5 L150.5 303.5 L151.5 303.5 L152.5 302.5 L153.5 302.5 L153.5 301.5 L155.5 301.5 L156.5 300.5 L157.5 299.5 L160.5 298.5 L161.5 297.5 L162.5 296.5 L164.5 296.5 L165.5 295.5 L165.5 294.5 L169.5 294.5 L169.5 293.5 L173.5 293.5 L175.5 292.5 L176.5 292.5 L181.5 291.5 L184.5 290.5 L185.5 290.5 L185.5 289.5 L186.5 289.5 L187.5 288.5 L188.5 287.5 L189.5 286.5 L190.5 286.5 L191.5 285.5 L192.5 284.5 L195.5 283.5 L195.5 282.5 L196.5 282.5 L196.5 281.5 L197.5 281.5 L198.5 280.5 L199.5 279.5 L201.5 278.5 L202.5 277.5 L204.5 277.5 L205.5 276.5 L205.5 275.5 L207.5 274.5 L209.5 274.5 L210.5 273.5 L218.5 273.5 L218.5 272.5 L218.5 271.5 L219.5 270.5 L220.5 270.5 L220.5 269.5 L220.5 268.5 L221.5 268.5 L222.5 267.5 L222.5 266.5 L223.5 266.5 L223.5 265.5 L224.5 265.5 L225.5 264.5 L226.5 263.5 L227.5 262.5 L229.5 262.5 L233.5 261.5 L234.5 261.5 L240.5 260.5 L241.5 259.5 L242.5 258.5 L243.5 258.5 L244.5 257.5 L245.5 257.5 L245.5 256.5 L246.5 256.5 L246.5 255.5 L250.5 254.5 L253.5 253.5 L254.5 253.5 L255.5 252.5 L257.5 251.5 L257.5 250.5 L259.5 250.5 L259.5 249.5 L260.5 249.5 L262.5 248.5 L262.5 247.5 L265.5 246.5 L266.5 246.5 L266.5 245.5 L268.5 244.5 L269.5 244.5 L271.5 243.5 L272.5 242.5 L273.5 241.5 L274.5 241.5 L274.5 240.5 L276.5 240.5 L277.5 239.5 L278.5 239.5 L280.5 238.5 L281.5 237.5 L287.5 236.5 L289.5 236.5 L290.5 235.5 L296.5 235.5 L297.5 234.5 L298.5 233.5 L301.5 233.5 L302.5 232.5 L305.5 232.5 L307.5 231.5 L311.5 231.5 L312.5 230.5 L312.5 229.5 L313.5 229.5 L314.5 228.5 L317.5 228.5 L318.5 227.5 L321.5 227.5 L322.5 226.5 L328.5 225.5 L329.5 225.5 L330.5 224.5 L333.5 223.5 L333.5 222.5 L333.5 221.5 L334.5 221.5 L335.5 220.5 L335.5 219.5 L336.5 219.5 L337.5 218.5 L338.5 217.5 L339.5 216.5 L340.5 216.5 L340.5 215.5 L341.5 215.5 L342.5 214.5 L343.5 213.5 L344.5 212.5 L346.5 211.5 L346.5 210.5 L347.5 209.5 L348.5 208.5 L348.5 207.5 L349.5 207.5 L349.5 206.5 L349.5 205.5 L352.5 205.5 L352.5 204.5 L353.5 203.5 L354.5 202.5 L354.5 201.5 L355.5 201.5 L355.5 200.5 L359.5 200.5 L359.5 199.5 L360.5 199.5 L361.5 198.5 L364.5 197.5 L365.5 196.5 L367.5 196.5 L368.5 195.5 L369.5 195.5 L370.5 194.5 L372.5 193.5 L375.5 192.5 L377.5 191.5 L380.5 190.5 L381.5 189.5 L383.5 188.5 L385.5 188.5 L386.5 187.5 L390.5 187.5 L391.5 186.5 L392.5 185.5 L393.5 185.5 L397.5 184.5 L398.5 184.5 L399.5 183.5 L405.5 183.5 L406.5 182.5 L407.5 182.5 L412.5 181.5 L413.5 180.5 L416.5 180.5 L425.5 179.5 L426.5 179.5 L426.5 178.5 L427.5 178.5 L428.5 177.5 L435.5 176.5 L439.5 176.5 L440.5 175.5 L446.5 175.5 L448.5 174.5 L449.5 174.5 L451.5 173.5 L454.5 172.5 L455.5 172.5 L460.5 171.5 L461.5 171.5 L461.5 170.5 L466.5 170.5 L466.5 169.5 L467.5 168.5 L468.5 167.5 L470.5 167.5 L471.5 166.5 L476.5 165.5 L477.5 164.5 L481.5 164.5 L483.5 163.5 L484.5 162.5 L489.5 161.5 L490.5 160.5 L494.5 159.5 L495.5 159.5 L496.5 158.5 L497.5 157.5 L498.5 156.5 L501.5 156.5 L501.5 155.5 L502.5 155.5 L504.5 154.5 L505.5 153.5 L507.5 152.5 L508.5 152.5 L509.5 151.5 L510.5 151.5 L516.5 150.5 L516.5 149.5 L519.5 148.5 L520.5 147.5 L524.5 147.5 L525.5 146.5 L526.5 146.5 L526.5 145.5 L526.5 144.5 L527.5 144.5 L527.5 143.5 L528.5 142.5 L528.5 141.5 L529.5 140.5 L529.5 139.5 L530.5 138.5 L531.5 137.5 L531.5 136.5 L532.5 136.5 L533.5 135.5 L534.5 134.5 L535.5 134.5 L535.5 133.5 L535.5 132.5 L536.5 132.5 L536.5 131.5 L537.5 131.5 L537.5 130.5 L538.5 129.5 L538.5 128.5 L539.5 128.5 L539.5 127.5 L543.5 126.5 L544.5 125.5 L546.5 124.5 L546.5 123.5 L548.5 123.5 L548.5 122.5 L550.5 121.5 L551.5 120.5 L552.5 119.5 L553.5 118.5 L554.5 118.5 L555.5 117.5 L556.5 117.5 L556.5 116.5 L557.5 115.5 L558.5 114.5 L560.5 113.5 L562.5 112.5 L562.5 111.5 L563.5 111.5 L564.5 110.5 L564.5 109.5 L565.5 108.5 L566.5 107.5 L567.5 107.5 L567.5 106.5 L568.5 106.5 L568.5 105.5 L568.5 104.5 L569.5 103.5 L570.5 103.5 L570.5 102.5 L571.5 102.5 L571.5 101.5 L572.5 100.5 L572.5 99.5 L573.5 99.5 L573.5 98.5 L574.5 98.5 L574.5 97.5 L574.5 96.5 L575.5 95.5 L576.5 94.5 L576.5 93.5 L577.5 93.5 L577.5 92.5 L578.5 91.5 L579.5 90.5 L580.5 89.5 L581.5 88.5 L582.5 87.5 L582.5 86.5 L582.5 85.5 L583.5 85.5 L583.5 84.5 L583.5 83.5" stroke="#0080ff" stroke-width="1" fill="none"/>
<path d="M49 437.5h7M52.5 434v7M49 436.5h7M52.5 433v7M49 435.5h7M52.5 432v7M49 434.5h7M52.5 431v7M49 433.5h7M52.5 430v7M50 433.5h7M53.5 430v7M50 432.5h7M53.5 429v7M50 431.5h7M53.5 428v7M50 430.5h7M53.5 427v7M50 429.5h7M53.5 426v7M51 429.5h7M54.5 426v7M51 428.5h7M54.5 425v7M51 427.5h7M54.5 424v7M52 427.5h7M55.5 424v7M52 426.5h7M55.5 423v7M52 425.5h7M55.5 422v7M53 424.5h7M56.5 421v7M53 423.5h7M56.5 420v7M54 423.5h7M57.5 420v7M54 422.5h7M57.5 419v7M54 421.5h7M57.5 418v7M55 420.5h7M58.5 417v7M55 419.5h7M58.5 416v7M56 419.5h7M59.5 416v7M56 418.5h7M59.5 415v7M56 417.5h7M59.5 414v7M57 416.5h7M60.5 413v7M57 415.5h7M60.5 412v7M57 414.5h7M60.5 411v7M58 413.5h7M61.5 410v7M58 412.5h7M61.5 409v7M58 411.5h7M61.5 408v7M59 410.5h7M62.5 407v7M59 409.5h7M62.5 406v7M59 408.5h7M62.5 405v7M60 408.5h7M63.5 405v7M60 407.5h7M63.5 404v7M60 406.5h7M63.5 403v7M60 405.5h7M63.5 402v7M61 404.5h7M64.5 401v7M61 403.5h7M64.5 400v7M61 402.5h7M64.5 399v7M62 402.5h7M65.5 399v7M62 401.5h7M65.5 398v7M62 400.5h7M65.5 397v7M62 399.5h7M65.5 396v7M62 398.5h7M65.5 395v7M62 397.5h7M65.5 394v7M63 396.5h7M66.5 393v7M63 395.5h7M66.5 392v7M63 394.5h7M66.5 391v7M64 393.5h7M67.5 390v7M64 392.5h7M67.5 389v7M64 391.5h7M67.5 388v7M64 390.5h7M67.5 387v7M64 389.5h7M67.5 386v7M64 388.5h7M67.5 385v7M65 387.5h7M68.5 384v7M65 386.5h7M68.5 383v7M65 385.5h7M68.5 382v7M65 384.5h7M68.5 381v7M65 383.5h7M68.5 380v7M65 382.5h7M68.5 379v7M66 382.5h7M69.5 379v7M66 381.5h7M69.5 378v7M66 380.5h7M69.5 377v7M66 379.5h7M69.5 376v7M66 378.5h7M69.5 375v7M67 377.5h7M70.5 374v7M67 376.5h7M70.5 373v7M67 375.5h7M70.5 372v7M67 374.5h7M70.5 371v7M67 373.5h7M70.5 370v7M67 372.5h7M70.5 369v7M68 372.5h7M71.5 369v7M68 371.5h7M71.5 368v7M68 370.5h7M71.5 367v7M68 369.5h7M71.5 366v7M68 368.5h7M71.5 365v7M69 368.5h7M72.5 365v7M69 367.5h7M72.5 364v7M69 366.5h7M72.5 363v7M69 365.5h7M72.5 362v7M70 364.5h7M73.5 361v7M70 363.5h7M73.5 360v7M70 362.5h7M73.5 359v7M71 362.5h7M74.5 359v7M71 361.5h7M74.5 358v7M71 360.5h7M74.5 357v7M71 359.5h7M74.5 356v7M72 359.5h7M75.5 356v7M72 358.5h7M75.5 355v7M72 357.5h7M75.5 354v7M73 356.5h7M76.5 353v7M73 355.5h7M76.5 352v7M74 354.5h7M77.5 351v7M75 354.5h7M78.5 351v7M75 353.5h7M78.5 350v7M76 352.5h7M79.5 349v7M76 351.5h7M79.5 348v7M77 351.5h7M80.5 348v7M77 350.5h7M80.5 347v7M78 349.5h7M81.5 346v7M79 348.5h7M82.5 345v7M79 347.5h7M82.5 344v7M80 347.5h7M83.5 344v7M80 346.5h7M83.5 343v7M82 345.5h7M85.5 342v7M83 344.5h7M86.5 341v7M83 343.5h7M86.5 340v7M85 342.5h7M88.5 339v7M87 341.5h7M90.5 338v7M87 340.5h7M90.5 337v7M87 339.5h7M90.5 336v7M88 339.5h7M91.5 336v7M90 338.5h7M93.5 335v7M91 338.5h7M94.5 335v7M91 337.5h7M94.5 334v7M94 336.5h7M97.5 333v7M94 335.5h7M97.5 332v7M96 335.5h7M99.5 332v7M97 334.5h7M100.5 331v7M98 333.5h7M101.5 330v7M99 333.5h7M102.5 330v7M100 332.5h7M103.5 329v7M101 331.5h7M104.5 328v7M102 331.5h7M105.5 328v7M103 330.5h7M106.5 327v7M105 330.5h7M108.5 327v7M105 329.5h7M108.5 326v7M105 328.5h7M108.5 325v7M105 327.5h7M108.5 324v7M106 327.5h7M109.5 324v7M107 326.5h7M110.5 323v7M108 325.5h7M111.5 322v7M109 324.5h7M112.5 321v7M109 323.5h7M112.5 320v7M110 323.5h7M113.5 320v7M111 322.5h7M114.5 319v7M111 321.5h7M114.5 318v7M112 320.5h7M115.5 317v7M113 319.5h7M116.5 316v7M114 318.5h7M117.5 315v7M114 317.5h7M117.5 314v7M115 317.5h7M118.5 314v7M117 316.5h7M120.5 313v7M117 315.5h7M120.5 312v7M118 315.5h7M121.5 312v7M118 314.5h7M121.5 311v7M121 313.5h7M124.5 310v7M122 312.5h7M125.5 309v7M122 311.5h7M125.5 308v7M124 310.5h7M127.5 307v7M125 309.5h7M128.5 306v7M135 309.5h7M138.5 306v7M136 308.5h7M139.5 305v7M136 307.5h7M139.5 304v7M140 307.5h7M143.5 304v7M141 306.5h7M144.5 303v7M142 306.5h7M145.5 303v7M144 305.5h7M147.5 302v7M145 305.5h7M148.5 302v7M146 304.5h7M149.5 301v7M147 303.5h7M150.5 300v7M148 303.5h7M151.5 300v7M149 302.5h7M152.5 299v7M150 302.5h7M153.5 299v7M150 301.5h7M153.5 298v7M152 301.5h7M155.5 298v7M153 300.5h7M156.5 297v7M154 299.5h7M157.5 296v7M157 298.5h7M160.5 295v7M158 297.5h7M161.5 294v7M159 296.5h7M162.5 293v7M161 296.5h7M164.5 293v7M162 295.5h7M165.5 292v7M162 294.5h7M165.5 291v7M166 294.5h7M169.5 291v7M166 293.5h7M169.5 290v7M170 293.5h7M173.5 290v7M172 292.5h7M175.5 289v7M173 292.5h7M176.5 289v7M178 291.5h7M181.5 288v7M181 290.5h7M184.5 287v7M182 290.5h7M185.5 287v7M182 289.5h7M185.5 286v7M183 289.5h7M186.5 286v7M184 288.5h7M187.5 285v7M185 287.5h7M188.5 284v7M186 286.5h7M189.5 283v7M187 286.5h7M190.5 283v7M188 285.5h7M191.5 282v7M189 284.5h7M192.5 281v7M192 283.5h7M195.5 280v7M192 282.5h7M195.5 279v7M193 282.5h7M196.5 279v7M193 281.5h7M196.5 278v7M194 281.5h7M197.5 278v7M195 280.5h7M198.5 277v7M196 279.5h7M199.5 276v7M198 278.5h7M201.5 275v7M199 277.5h7M202.5 274v7M201 277.5h7M204.5 274v7M202 276.5h7M205.5 273v7M202 275.5h7M205.5 272v7M204 274.5h7M207.5 271v7M206 274.5h7M209.5 271v7M207 273.5h7M210.5 270v7M215 273.5h7M218.5 270v7M215 272.5h7M218.5 269v7M215 271.5h7M218.5 268v7M216 270.5h7M219.5 267v7M217 270.5h7M220.5 267v7M217 269.5h7M220.5 266v7M217 268.5h7M220.5 265v7M218 268.5h7M221.5 265v7M219 267.5h7M222.5 264v7M219 266.5h7M222.5 263v7M220 266.5h7M223.5 263v7M220 265.5h7M223.5 262v7M221 265.5h7M224.5 262v7M222 264.5h7M225.5 261v7M223 263.5h7M226.5 260v7M224 262.5h7M227.5 259v7M226 262.5h7M229.5 259v7M230 261.5h7M233.5 258v7M231 261.5h7M234.5 258v7M237 260.5h7M240.5 257v7M238 259.5h7M241.5 256v7M239 258.5h7M242.5 255v7M240 258.5h7M243.5 255v7M241 257.5h7M244.5 254v7M242 257.5h7M245.5 254v7M242 256.5h7M245.5 253v7M243 256.5h7M246.5 253v7M243 255.5h7M246.5 252v7M247 254.5h7M250.5 251v7M250 253.5h7M253.5 250v7M251 253.5h7M254.5 250v7M252 252.5h7M255.5 249v7M254 251.5h7M257.5 248v7M254 250.5h7M257.5 247v7M256 250.5h7M259.5 247v7M256 249.5h7M259.5 246v7M257 249.5h7M260.5 246v7M259 248.5h7M262.5 245v7M259 247.5h7M262.5 244v7M262 246.5h7M265.5 243v7M263 246.5h7M266.5 243v7M263 245.5h7M266.5 242v7M265 244.5h7M268.5 241v7M266 244.5h7M269.5 241v7M268 243.5h7M271.5 240v7M269 242.5h7M272.5 239v7M270 241.5h7M273.5 238v7M271 241.5h7M274.5 238v7M271 240.5h7M274.5 237v7M273 240.5h7M276.5 237v7M274 239.5h7M277.5 236v7M275 239.5h7M278.5 236v7M277 238.5h7M280.5 235v7M278 237.5h7M281.5 234v7M284 236.5h7M287.5 233v7M286 236.5h7M289.5 233v7M287 235.5h7M290.5 232v7M293 235.5h7M296.5 232v7M294 234.5h7M297.5 231v7M295 233.5h7M298.5 230v7M298 233.5h7M301.5 230v7M299 232.5h7M302.5 229v7M302 232.5h7M305.5 229v7M304 231.5h7M307.5 228v7M308 231.5h7M311.5 228v7M309 230.5h7M312.5 227v7M309 229.5h7M312.5 226v7M310 229.5h7M313.5 226v7M311 228.5h7M314.5 225v7M314 228.5h7M317.5 225v7M315 227.5h7M318.5 224v7M318 227.5h7M321.5 224v7M319 226.5h7M322.5 223v7M325 225.5h7M328.5 222v7M326 225.5h7M329.5 222v7M327 224.5h7M330.5 221v7M330 223.5h7M333.5 220v7M330 222.5h7M333.5 219v7M330 221.5h7M333.5 218v7M331 221.5h7M334.5 218v7M332 220.5h7M335.5 217v7M332 219.5h7M335.5 216v7M333 219.5h7M336.5 216v7M334 218.5h7M337.5 215v7M335 217.5h7M338.5 214v7M336 216.5h7M339.5 213v7M337 216.5h7M340.5 213v7M337 215.5h7M340.5 212v7M338 215.5h7M341.5 212v7M339 214.5h7M342.5 211v7M340 213.5h7M343.5 210v7M341 212.5h7M344.5 209v7M343 211.5h7M346.5 208v7M343 210.5h7M346.5 207v7M344 209.5h7M347.5 206v7M345 208.5h7M348.5 205v7M345 207.5h7M348.5 204v7M346 207.5h7M349.5 204v7M346 206.5h7M349.5 203v7M346 205.5h7M349.5 202v7M349 205.5h7M352.5 202v7M349 204.5h7M352.5 201v7M350 203.5h7M353.5 200v7M351 202.5h7M354.5 199v7M351 201.5h7M354.5 198v7M352 201.5h7M355.5 198v7M352 200.5h7M355.5 197v7M356 200.5h7M359.5 197v7M356 199.5h7M359.5 196v7M357 199.5h7M360.5 196v7M358 198.5h7M361.5 195v7M361 197.5h7M364.5 194v7M362 196.5h7M365.5 193v7M364 196.5h7M367.5 193v7M365 195.5h7M368.5 192v7M366 195.5h7M369.5 192v7M367 194.5h7M370.5 191v7M369 193.5h7M372.5 190v7M372 192.5h7M375.5 189v7M374 191.5h7M377.5 188v7M377 190.5h7M380.5 187v7M378 189.5h7M381.5 186v7M380 188.5h7M383.5 185v7M382 188.5h7M385.5 185v7M383 187.5h7M386.5 184v7M387 187.5h7M390.5 184v7M388 186.5h7M391.5 183v7M389 185.5h7M392.5 182v7M390 185.5h7M393.5 182v7M394 184.5h7M397.5 181v7M395 184.5h7M398.5 181v7M396 183.5h7M399.5 180v7M402 183.5h7M405.5 180v7M403 182.5h7M406.5 179v7M404 182.5h7M407.5 179v7M409 181.5h7M412.5 178v7M410 180.5h7M413.5 177v7M413 180.5h7M416.5 177v7M422 179.5h7M425.5 176v7M423 179.5h7M426.5 176v7M423 178.5h7M426.5 175v7M424 178.5h7M427.5 175v7M425 177.5h7M428.5 174v7M432 176.5h7M435.5 173v7M436 176.5h7M439.5 173v7M437 175.5h7M440.5 172v7M443 175.5h7M446.5 172v7M445 174.5h7M448.5 171v7M446 174.5h7M449.5 171v7M448 173.5h7M451.5 170v7M451 172.5h7M454.5 169v7M452 172.5h7M455.5 169v7M457 171.5h7M460.5 168v7M458 171.5h7M461.5 168v7M458 170.5h7M461.5 167v7M463 170.5h7M466.5 167v7M463 169.5h7M466.5 166v7M464 168.5h7M467.5 165v7M465 167.5h7M468.5 164v7M467 167.5h7M470.5 164v7M468 166.5h7M471.5 163v7M473 165.5h7M476.5 162v7M474 164.5h7M477.5 161v7M478 164.5h7M481.5 161v7M480 163.5h7M483.5 160v7M481 162.5h7M484.5 159v7M486 161.5h7M489.5 158v7M487 160.5h7M490.5 157v7M491 159.5h7M494.5 156v7M492 159.5h7M495.5 156v7M493 158.5h7M496.5 155v7M494 157.5h7M497.5 154v7M495 156.5h7M498.5 153v7M498 156.5h7M501.5 153v7M498 155.5h7M501.5 152v7M499 155.5h7M502.5 152v7M501 154.5h7M504.5 151v7M502 153.5h7M505.5 150v7M504 152.5h7M507.5 149v7M505 152.5h7M508.5 149v7M506 151.5h7M509.5 148v7M507 151.5h7M510.5 148v7M513 150.5h7M516.5 147v7M513 149.5h7M516.5 146v7M516 148.5h7M519.5 145v7M517 147.5h7M520.5 144v7M521 147.5h7M524.5 144v7M522 146.5h7M525.5 143v7M523 146.5h7M526.5 143v7M523 145.5h7M526.5 142v7M523 144.5h7M526.5 141v7M524 144.5h7M527.5 141v7M524 143.5h7M527.5 140v7M525 142.5h7M528.5 139v7M525 141.5h7M528.5 138v7M526 140.5h7M529.5 137v7M526 139.5h7M529.5 136v7M527 138.5h7M530.5 135v7M528 137.5h7M531.5 134v7M528 136.5h7M531.5 133v7M529 136.5h7M532.5 133v7M530 135.5h7M533.5 132v7M531 134.5h7M534.5 131v7M532 134.5h7M535.5 131v7M532 133.5h7M535.5 130v7M532 132.5h7M535.5 129v7M533 132.5h7M536.5 129v7M533 131.5h7M536.5 128v7M534 131.5h7M537.5 128v7M534 130.5h7M537.5 127v7M535 129.5h7M538.5 126v7M535 128.5h7M538.5 125v7M536 128.5h7M539.5 125v7M536 127.5h7M539.5 124v7M540 126.5h7M543.5 123v7M541 125.5h7M544.5 122v7M543 124.5h7M546.5 121v7M543 123.5h7M546.5 120v7M545 123.5h7M548.5 120v7M545 122.5h7M548.5 119v7M547 121.5h7M550.5 118v7M548 120.5h7M551.5 117v7M549 119.5h7M552.5 116v7M550 118.5h7M553.5 115v7M551 118.5h7M554.5 115v7M552 117.5h7M555.5 114v7M553 117.5h7M556.5 114v7M553 116.5h7M556.5 113v7M554 115.5h7M557.5 112v7M555 114.5h7M558.5 111v7M557 113.5h7M560.5 110v7M559 112.5h7M562.5 109v7M559 111.5h7M562.5 108v7M560 111.5h7M563.5 108v7M561 110.5h7M564.5 107v7M561 109.5h7M564.5 106v7M562 108.5h7M565.5 105v7M563 107.5h7M566.5 104v7M564 107.5h7M567.5 104v7M564 106.5h7M567.5 103v7M565 106.5h7M568.5 103v7M565 105.5h7M568.5 102v7M565 104.5h7M568.5 101v7M566 103.5h7M569.5 100v7M567 103.5h7M570.5 100v7M567 102.5h7M570.5 99v7M568 102.5h7M571.5 99v7M568 101.5h7M571.5 98v7M569 100.5h7M572.5 97v7M569 99.5h7M572.5 96v7M570 99.5h7M573.5 96v7M570 98.5h7M573.5 95v7M571 98.5h7M574.5 95v7M571 97.5h7M574.5 94v7M571 96.5h7M574.5 93v7M572 95.5h7M575.5 92v7M573 94.5h7M576.5 91v7M573 93.5h7M576.5 90v7M574 93.5h7M577.5 90v7M574 92.5h7M577.5 89v7M575 91.5h7M578.5 88v7M576 90.5h7M579.5 87v7M577 89.5h7M580.5 86v7M578 88.5h7M581.5 85v7M579 87.5h7M582.5 84v7M579 86.5h7M582.5 83v7M579 85.5h7M582.5 82v7M580 85.5h7M583.5 82v7M580 84.5h7M583.5 81v7M580 83.5h7M583.5 80v7M49.5 434.5l6 6M49.5 440.5l6 -6M49.5 433.5l6 6M49.5 439.5l6 -6M49.5 432.5l6 6M49.5 438.5l6 -6M49.5 431.5l6 6M49.5 437.5l6 -6M49.5 430.5l6 6M49.5 436.5l6 -6M50.5 430.5l6 6M50.5 436.5l6 -6M50.5 429.5l6 6M50.5 435.5l6 -6M50.5 428.5l6 6M50.5 434.5l6 -6M50.5 427.5l6 6M50.5 433.5l6 -6M50.5 426.5l6 6M50.5 432.5l6 -6M51.5 426.5l6 6M51.5 432.5l6 -6M51.5 425.5l6 6M51.5 431.5l6 -6M51.5 424.5l6 6M51.5 430.5l6 -6M52.5 424.5l6 6M52.5 430.5l6 -6M52.5 423.5l6 6M52.5 429.5l6 -6M52.5 422.5l6 6M52.5 428.5l6 -6M53.5 421.5l6 6M53.5 427.5l6 -6M53.5 420.5l6 6M53.5 426.5l6 -6M54.5 420.5l6 6M54.5 426.5l6 -6M54.5 419.5l6 6M54.5 425.5l6 -6M54.5 418.5l6 6M54.5 424.5l6 -6M55.5 417.5l6 6M55.5 423.5l6 -6M55.5 416.5l6 6M55.5 422.5l6 -6M56.5 416.5l6 6M56.5 422.5l6 -6M56.5 415.5l6 6M56.5 421.5l6 -6M56.5 414.5l6 6M56.5 420.5l6 -6M57.5 413.5l6 6M57.5 419.5l6 -6M57.5 412.5l6 6M57.5 418.5l6 -6M57.5 411.5l6 6M57.5 417.5l6 -6M58.5 410.5l6 6M58.5 416.5l6 -6M58.5 409.5l6 6M58.5 415.5l6 -6M58.5 408.5l6 6M58.5 414.5l6 -6M59.5 407.5l6 6M59.5 413.5l6 -6M59.5 406.5l6 6M59.5 412.5l6 -6M59.5 405.5l6 6M59.5 411.5l6 -6M60.5 405.5l6 6M60.5 411.5l6 -6M60.5 404.5l6 6M60.5 410.5l6 -6M60.5 403.5l6 6M60.5 409.5l6 -6M60.5 402.5l6 6M60.5 408.5l6 -6M61.5 401.5l6 6M61.5 407.5l6 -6M61.5 400.5l6 6M61.5 406.5l6 -6M61.5 399.5l6 6M61.5 405.5l6 -6M62.5 399.5l6 6M62.5 405.5l6 -6M62.5 398.5l6 6M62.5 404.5l6 -6M62.5 397.5l6 6M62.5 403.5l6 -6M62.5 396.5l6 6M62.5 402.5l6 -6M62.5 395.5l6 6M62.5 401.5l6 -6M62.5 394.5l6 6M62.5 400.5l6 -6M63.5 393.5l6 6M63.5 399.5l6 -6M63.5 392.5l6 6M63.5 398.5l6 -6M63.5 391.5l6 6M63.5 397.5l6 -6M64.5 390.5l6 6M64.5 396.5l6 -6M64.5 389.5l6 6M64.5 395.5l6 -6M64.5 388.5l6 6M64.5 394.5l6 -6M64.5 387.5l6 6M64.5 393.5l6 -6M64.5 386.5l6 6M64.5 392.5l6 -6M64.5 385.5l6 6M64.5 391.5l6 -6M65.5 384.5l6 6M65.5 390.5l6 -6M65.5 383.5l6 6M65.5 389.5l6 -6M65.5 382.5l6 6M65.5 388.5l6 -6M65.5 381.5l6 6M65.5 387.5l6 -6M65.5 380.5l6 6M65.5 386.5l6 -6M65.5 379.5l6 6M65.5 385.5l6 -6M66.5 379.5l6 6M66.5 385.5l6 -6M66.5 378.5l6 6M66.5 384.5l6 -6M66.5 377.5l6 6M66.5 383.5l6 -6M66.5 376.5l6 6M66.5 382.5l6 -6M66.5 375.5l6 6M66.5 381.5l6 -6M67.5 374.5l6 6M67.5 380.5l6 -6M67.5 373.5l6 6M67.5 379.5l6 -6M67.5 372.5l6 6M67.5 378.5l6 -6M67.5 371.5l6 6M67.5 377.5l6 -6M67.5 370.5l6 6M67.5 376.5l6 -6M67.5 369.5l6 6M67.5 375.5l6 -6M68.5 369.5l6 6M68.5 375.5l6 -6M68.5 368.5l6 6M68.5 374.5l6 -6M68.5 367.5l6 6M68.5 373.5l6 -6M68.5 366.5l6 6M68.5 372.5l6 -6M68.5 365.5l6 6M68.5 371.5l6 -6M69.5 365.5l6 6M69.5 371.5l6 -6M69.5 364.5l6 6M69.5 370.5l6 -6M69.5 363.5l6 6M69.5 369.5l6 -6M69.5 362.5l6 6M69.5 368.5l6 -6M70.5 361.5l6 6M70.5 367.5l6 -6M70.5 360.5l6 6M70.5 366.5l6 -6M70.5 359.5l6 6M70.5 365.5l6 -6M71.5 359.5l6 6M71.5 365.5l6 -6M71.5 358.5l6 6M71.5 364.5l6 -6M71.5 357.5l6 6M71.5 363.5l6 -6M71.5 356.5l6 6M71.5 362.5l6 -6M72.5 356.5l6 6M72.5 362.5l6 -6M72.5 355.5l6 6M72.5 361.5l6 -6M72.5 354.5l6 6M72.5 360.5l6 -6M73.5 353.5l6 6M73.5 359.5l6 -6M73.5 352.5l6 6M73.5 358.5l6 -6M74.5 351.5l6 6M74.5 357.5l6 -6M75.5 351.5l6 6M75.5 357.5l6 -6M75.5 350.5l6 6M75.5 356.5l6 -6M76.5 349.5l6 6M76.5 355.5l6 -6M76.5 348.5l6 6M76.5 354.5l6 -6M77.5 348.5l6 6M77.5 354.5l6 -6M77.5 347.5l6 6M77.5 353.5l6 -6M78.5 346.5l6 6M78.5 352.5l6 -6M79.5 345.5l6 6M79.5 351.5l6 -6M79.5 344.5l6 6M79.5 350.5l6 -6M80.5 344.5l6 6M80.5 350.5l6 -6M80.5 343.5l6 6M80.5 349.5l6 -6M82.5 342.5l6 6M82.5 348.5l6 -6M83.5 341.5l6 6M83.5 347.5l6 -6M83.5 340.5l6 6M83.5 346.5l6 -6M85.5 339.5l6 6M85.5 345.5l6 -6M87.5 338.5l6 6M87.5 344.5l6 -6M87.5 337.5l6 6M87.5 343.5l6 -6M87.5 336.5l6 6M87.5 342.5l6 -6M88.5 336.5l6 6M88.5 342.5l6 -6M90.5 335.5l6 6M90.5 341.5l6 -6M91.5 335.5l6 6M91.5 341.5l6 -6M91.5 334.5l6 6M91.5 340.5l6 -6M94.5 333.5l6 6M94.5 339.5l6 -6M94.5 332.5l6 6M94.5 338.5l6 -6M96.5 332.5l6 6M96.5 338.5l6 -6M97.5 331.5l6 6M97.5 337.5l6 -6M98.5 330.5l6 6M98.5 336.5l6 -6M99.5 330.5l6 6M99.5 336.5l6 -6M100.5 329.5l6 6M100.5 335.5l6 -6M101.5 328.5l6 6M101.5 334.5l6 -6M102.5 328.5l6 6M102.5 334.5l6 -6M103.5 327.5l6 6M103.5 333.5l6 -6M105.5 327.5l6 6M105.5 333.5l6 -6M105.5 326.5l6 6M105.5 332.5l6 -6M105.5 325.5l6 6M105.5 331.5l6 -6M105.5 324.5l6 6M105.5 330.5l6 -6M106.5 324.5l6 6M106.5 330.5l6 -6M107.5 323.5l6 6M107.5 329.5l6 -6M108.5 322.5l6 6M108.5 328.5l6 -6M109.5 321.5l6 6M109.5 327.5l6 -6M109.5 320.5l6 6M109.5 326.5l6 -6M110.5 320.5l6 6M110.5 326.5l6 -6M111.5 319.5l6 6M111.5 325.5l6 -6M111.5 318.5l6 6M111.5 324.5l6 -6M112.5 317.5l6 6M112.5 323.5l6 -6M113.5 316.5l6 6M113.5 322.5l6 -6M114.5 315.5l6 6M114.5 321.5l6 -6M114.5 314.5l6 6M114.5 320.5l6 -6M115.5 314.5l6 6M115.5 320.5l6 -6M117.5 313.5l6 6M117.5 319.5l6 -6M117.5 312.5l6 6M117.5 318.5l6 -6M118.5 312.5l6 6M118.5 318.5l6 -6M118.5 311.5l6 6M118.5 317.5l6 -6M121.5 310.5l6 6M121.5 316.5l6 -6M122.5 309.5l6 6M122.5 315.5l6 -6M122.5 308.5l6 6M122.5 314.5l6 -6M124.5 307.5l6 6M124.5 313.5l6 -6M125.5 306.5l6 6M125.5 312.5l6 -6M135.5 306.5l6 6M135.5 312.5l6 -6M136.5 305.5l6 6M136.5 311.5l6 -6M136.5 304.5l6 6M136.5 310.5l6 -6M140.5 304.5l6 6M140.5 310.5l6 -6M141.5 303.5l6 6M141.5 309.5l6 -6M142.5 303.5l6 6M142.5 309.5l6 -6M144.5 302.5l6 6M144.5 308.5l6 -6M145.5 302.5l6 6M145.5 308.5l6 -6M146.5 301.5l6 6M146.5 307.5l6 -6M147.5 300.5l6 6M147.5 306.5l6 -6M148.5 300.5l6 6M148.5 306.5l6 -6M149.5 299.5l6 6M149.5 305.5l6 -6M150.5 299.5l6 6M150.5 305.5l6 -6M150.5 298.5l6 6M150.5 304.5l6 -6M152.5 298.5l6 6M152.5 304.5l6 -6M153.5 297.5l6 6M153.5 303.5l6 -6M154.5 296.5l6 6M154.5 302.5l6 -6M157.5 295.5l6 6M157.5 301.5l6 -6M158.5 294.5l6 6M158.5 300.5l6 -6M159.5 293.5l6 6M159.5 299.5l6 -6M161.5 293.5l6 6M161.5 299.5l6 -6M162.5 292.5l6 6M162.5 298.5l6 -6M162.5 291.5l6 6M162.5 297.5l6 -6M166.5 291.5l6 6M166.5 297.5l6 -6M166.5 290.5l6 6M166.5 296.5l6 -6M170.5 290.5l6 6M170.5 296.5l6 -6M172.5 289.5l6 6M172.5 295.5l6 -6M173.5 289.5l6 6M173.5 295.5l6 -6M178.5 288.5l6 6M178.5 294.5l6 -6M181.5 287.5l6 6M181.5 293.5l6 -6M182.5 287.5l6 6M182.5 293.5l6 -6M182.5 286.5l6 6M182.5 292.5l6 -6M183.5 286.5l6 6M183.5 292.5l6 -6M184.5 285.5l6 6M184.5 291.5l6 -6M185.5 284.5l6 6M185.5 290.5l6 -6M186.5 283.5l6 6M186.5 289.5l6 -6M187.5 283.5l6 6M187.5 289.5l6 -6M188.5 282.5l6 6M188.5 288.5l6 -6M189.5 281.5l6 6M189.5 287.5l6 -6M192.5 280.5l6 6M192.5 286.5l6 -6M192.5 279.5l6 6M192.5 285.5l6 -6M193.5 279.5l6 6M193.5 285.5l6 -6M193.5 278.5l6 6M193.5 284.5l6 -6M194.5 278.5l6 6M194.5 284.5l6 -6M195.5 277.5l6 6M195.5 283.5l6 -6M196.5 276.5l6 6M196.5 282.5l6 -6M198.5 275.5l6 6M198.5 281.5l6 -6M199.5 274.5l6 6M199.5 280.5l6 -6M201.5 274.5l6 6M201.5 280.5l6 -6M202.5 273.5l6 6M202.5 279.5l6 -6M202.5 272.5l6 6M202.5 278.5l6 -6M204.5 271.5l6 6M204.5 277.5l6 -6M206.5 271.5l6 6M206.5 277.5l6 -6M207.5 270.5l6 6M207.5 276.5l6 -6M215.5 270.5l6 6M215.5 276.5l6 -6M215.5 269.5l6 6M215.5 275.5l6 -6M215.5 268.5l6 6M215.5 274.5l6 -6M216.5 267.5l6 6M216.5 273.5l6 -6M217.5 267.5l6 6M217.5 273.5l6 -6M217.5 266.5l6 6M217.5 272.5l6 -6M217.5 265.5l6 6M217.5 271.5l6 -6M218.5 265.5l6 6M218.5 271.5l6 -6M219.5 264.5l6 6M219.5 270.5l6 -6M219.5 263.5l6 6M219.5 269.5l6 -6M220.5 263.5l6 6M220.5 269.5l6 -6M220.5 262.5l6 6M220.5 268.5l6 -6M221.5 262.5l6 6M221.5 268.5l6 -6M222.5 261.5l6 6M222.5 267.5l6 -6M223.5 260.5l6 6M223.5 266.5l6 -6M224.5 259.5l6 6M224.5 265.5l6 -6M226.5 259.5l6 6M226.5 265.5l6 -6M230.5 258.5l6 6M230.5 264.5l6 -6M231.5 258.5l6 6M231.5 264.5l6 -6M237.5 257.5l6 6M237.5 263.5l6 -6M238.5 256.5l6 6M238.5 262.5l6 -6M239.5 255.5l6 6M239.5 261.5l6 -6M240.5 255.5l6 6M240.5 261.5l6 -6M241.5 254.5l6 6M241.5 260.5l6 -6M242.5 254.5l6 6M242.5 260.5l6 -6M242.5 253.5l6 6M242.5 259.5l6 -6M243.5 253.5l6 6M243.5 259.5l6 -6M243.5 252.5l6 6M243.5 258.5l6 -6M247.5 251.5l6 6M247.5 257.5l6 -6M250.5 250.5l6 6M250.5 256.5l6 -6M251.5 250.5l6 6M251.5 256.5l6 -6M252.5 249.5l6 6M252.5 255.5l6 -6M254.5 248.5l6 6M254.5 254.5l6 -6M254.5 247.5l6 6M254.5 253.5l6 -6M256.5 247.5l6 6M256.5 253.5l6 -6M256.5 246.5l6 6M256.5 252.5l6 -6M257.5 246.5l6 6M257.5 252.5l6 -6M259.5 245.5l6 6M259.5 251.5l6 -6M259.5 244.5l6 6M259.5 250.5l6 -6M262.5 243.5l6 6M262.5 249.5l6 -6M263.5 243.5l6 6M263.5 249.5l6 -6M263.5 242.5l6 6M263.5 248.5l6 -6M265.5 241.5l6 6M265.5 247.5l6 -6M266.5 241.5l6 6M266.5 247.5l6 -6M268.5 240.5l6 6M268.5 246.5l6 -6M269.5 239.5l6 6M269.5 245.5l6 -6M270.5 238.5l6 6M270.5 244.5l6 -6M271.5 238.5l6 6M271.5 244.5l6 -6M271.5 237.5l6 6M271.5 243.5l6 -6M273.5 237.5l6 6M273.5 243.5l6 -6M274.5 236.5l6 6M274.5 242.5l6 -6M275.5 236.5l6 6M275.5 242.5l6 -6M277.5 235.5l6 6M277.5 241.5l6 -6M278.5 234.5l6 6M278.5 240.5l6 -6M284.5 233.5l6 6M284.5 239.5l6 -6M286.5 233.5l6 6M286.5 239.5l6 -6M287.5 232.5l6 6M287.5 238.5l6 -6M293.5 232.5l6 6M293.5 238.5l6 -6M294.5 231.5l6 6M294.5 237.5l6 -6M295.5 230.5l6 6M295.5 236.5l6 -6M298.5 230.5l6 6M298.5 236.5l6 -6M299.5 229.5l6 6M299.5 235.5l6 -6M302.5 229.5l6 6M302.5 235.5l6 -6M304.5 228.5l6 6M304.5 234.5l6 -6M308.5 228.5l6 6M308.5 234.5l6 -6M309.5 227.5l6 6M309.5 233.5l6 -6M309.5 226.5l6 6M309.5 232.5l6 -6M310.5 226.5l6 6M310.5 232.5l6 -6M311.5 225.5l6 6M311.5 231.5l6 -6M314.5 225.5l6 6M314.5 231.5l6 -6M315.5 224.5l6 6M315.5 230.5l6 -6M318.5 224.5l6 6M318.5 230.5l6 -6M319.5 223.5l6 6M319.5 229.5l6 -6M325.5 222.5l6 6M325.5 228.5l6 -6M326.5 222.5l6 6M326.5 228.5l6 -6M327.5 221.5l6 6M327.5 227.5l6 -6M330.5 220.5l6 6M330.5 226.5l6 -6M330.5 219.5l6 6M330.5 225.5l6 -6M330.5 218.5l6 6M330.5 224.5l6 -6M331.5 218.5l6 6M331.5 224.5l6 -6M332.5 217.5l6 6M332.5 223.5l6 -6M332.5 216.5l6 6M332.5 222.5l6 -6M333.5 216.5l6 6M333.5 222.5l6 -6M334.5 215.5l6 6M334.5 221.5l6 -6M335.5 214.5l6 6M335.5 220.5l6 -6M336.5 213.5l6 6M336.5 219.5l6 -6M337.5 213.5l6 6M337.5 219.5l6 -6M337.5 212.5l6 6M337.5 218.5l6 -6M338.5 212.5l6 6M338.5 218.5l6 -6M339.5 211.5l6 6M339.5 217.5l6 -6M340.5 210.5l6 6M340.5 216.5l6 -6M341.5 209.5l6 6M341.5 215.5l6 -6M343.5 208.5l6 6M343.5 214.5l6 -6M343.5 207.5l6 6M343.5 213.5l6 -6M344.5 206.5l6 6M344.5 212.5l6 -6M345.5 205.5l6 6M345.5 211.5l6 -6M345.5 204.5l6 6M345.5 210.5l6 -6M346.5 204.5l6 6M346.5 210.5l6 -6M346.5 203.5l6 6M346.5 209.5l6 -6M346.5 202.5l6 6M346.5 208.5l6 -6M349.5 202.5l6 6M349.5 208.5l6 -6M349.5 201.5l6 6M349.5 207.5l6 -6M350.5 200.5l6 6M350.5 206.5l6 -6M351.5 199.5l6 6M351.5 205.5l6 -6M351.5 198.5l6 6M351.5 204.5l6 -6M352.5 198.5l6 6M352.5 204.5l6 -6M352.5 197.5l6 6M352.5 203.5l6 -6M356.5 197.5l6 6M356.5 203.5l6 -6M356.5 196.5l6 6M356.5 202.5l6 -6M357.5 196.5l6 6M357.5 202.5l6 -6M358.5 195.5l6 6M358.5 201.5l6 -6M361.5 194.5l6 6M361.5 200.5l6 -6M362.5 193.5l6 6M362.5 199.5l6 -6M364.5 193.5l6 6M364.5 199.5l6 -6M365.5 192.5l6 6M365.5 198.5l6 -6M366.5 192.5l6 6M366.5 198.5l6 -6M367.5 191.5l6 6M367.5 197.5l6 -6M369.5 190.5l6 6M369.5 196.5l6 -6M372.5 189.5l6 6M372.5 195.5l6 -6M374.5 188.5l6 6M374.5 194.5l6 -6M377.5 187.5l6 6M377.5 193.5l6 -6M378.5 186.5l6 6M378.5 192.5l6 -6M380.5 185.5l6 6M380.5 191.5l6 -6M382.5 185.5l6 6M382.5 191.5l6 -6M383.5 184.5l6 6M383.5 190.5l6 -6M387.5 184.5l6 6M387.5 190.5l6 -6M388.5 183.5l6 6M388.5 189.5l6 -6M389.5 182.5l6 6M389.5 188.5l6 -6M390.5 182.5l6 6M390.5 188.5l6 -6M394.5 181.5l6 6M394.5 187.5l6 -6M395.5 181.5l6 6M395.5 187.5l6 -6M396.5 180.5l6 6M396.5 186.5l6 -6M402.5 180.5l6 6M402.5 186.5l6 -6M403.5 179.5l6 6M403.5 185.5l6 -6M404.5 179.5l6 6M404.5 185.5l6 -6M409.5 178.5l6 6M409.5 184.5l6 -6M410.5 177.5l6 6M410.5 183.5l6 -6M413.5 177.5l6 6M413.5 183.5l6 -6M422.5 176.5l6 6M422.5 182.5l6 -6M423.5 176.5l6 6M423.5 182.5l6 -6M423.5 175.5l6 6M423.5 181.5l6 -6M424.5 175.5l6 6M424.5 181.5l6 -6M425.5 174.5l6 6M425.5 180.5l6 -6M432.5 173.5l6 6M432.5 179.5l6 -6M436.5 173.5l6 6M436.5 179.5l6 -6M437.5 172.5l6 6M437.5 178.5l6 -6M443.5 172.5l6 6M443.5 178.5l6 -6M445.5 171.5l6 6M445.5 177.5l6 -6M446.5 171.5l6 6M446.5 177.5l6 -6M448.5 170.5l6 6M448.5 176.5l6 -6M451.5 169.5l6 6M451.5 175.5l6 -6M452.5 169.5l6 6M452.5 175.5l6 -6M457.5 168.5l6 6M457.5 174.5l6 -6M458.5 168.5l6 6M458.5 174.5l6 -6M458.5 167.5l6 6M458.5 173.5l6 -6M463.5 167.5l6 6M463.5 173.5l6 -6M463.5 166.5l6 6M463.5 172.5l6 -6M464.5 165.5l6 6M464.5 171.5l6 -6M465.5 164.5l6 6M465.5 170.5l6 -6M467.5 164.5l6 6M467.5 170.5l6 -6M468.5 163.5l6 6M468.5 169.5l6 -6M473.5 162.5l6 6M473.5 168.5l6 -6M474.5 161.5l6 6M474.5 167.5l6 -6M478.5 161.5l6 6M478.5 167.5l6 -6M480.5 160.5l6 6M480.5 166.5l6 -6M481.5 159.5l6 6M481.5 165.5l6 -6M486.5 158.5l6 6M486.5 164.5l6 -6M487.5 157.5l6 6M487.5 163.5l6 -6M491.5 156.5l6 6M491.5 162.5l6 -6M492.5 156.5l6 6M492.5 162.5l6 -6M493.5 155.5l6 6M493.5 161.5l6 -6M494.5 154.5l6 6M494.5 160.5l6 -6M495.5 153.5l6 6M495.5 159.5l6 -6M498.5 153.5l6 6M498.5 159.5l6 -6M498.5 152.5l6 6M498.5 158.5l6 -6M499.5 152.5l6 6M499.5 158.5l6 -6M501.5 151.5l6 6M501.5 157.5l6 -6M502.5 150.5l6 6M502.5 156.5l6 -6M504.5 149.5l6 6M504.5 155.5l6 -6M505.5 149.5l6 6M505.5 155.5l6 -6M506.5 148.5l6 6M506.5 154.5l6 -6M507.5 148.5l6 6M507.5 154.5l6 -6M513.5 147.5l6 6M513.5 153.5l6 -6M513.5 146.5l6 6M513.5 152.5l6 -6M516.5 145.5l6 6M516.5 151.5l6 -6M517.5 144.5l6 6M517.5 150.5l6 -6M521.5 144.5l6 6M521.5 150.5l6 -6M522.5 143.5l6 6M522.5 149.5l6 -6M523.5 143.5l6 6M523.5 149.5l6 -6M523.5 142.5l6 6M523.5 148.5l6 -6M523.5 141.5l6 6M523.5 147.5l6 -6M524.5 141.5l6 6M524.5 147.5l6 -6M524.5 140.5l6 6M524.5 146.5l6 -6M525.5 139.5l6 6M525.5 145.5l6 -6M525.5 138.5l6 6M525.5 144.5l6 -6M526.5 137.5l6 6M526.5 143.5l6 -6M526.5 136.5l6 6M526.5 142.5l6 -6M527.5 135.5l6 6M527.5 141.5l6 -6M528.5 134.5l6 6M528.5 140.5l6 -6M528.5 133.5l6 6M528.5 139.5l6 -6M529.5 133.5l6 6M529.5 139.5l6 -6M530.5 132.5l6 6M530.5 138.5l6 -6M531.5 131.5l6 6M531.5 137.5l6 -6M532.5 131.5l6 6M532.5 137.5l6 -6M532.5 130.5l6 6M532.5 136.5l6 -6M532.5 129.5l6 6M532.5 135.5l6 -6M533.5 129.5l6 6M533.5 135.5l6 -6M533.5 128.5l6 6M533.5 134.5l6 -6M534.5 128.5l6 6M534.5 134.5l6 -6M534.5 127.5l6 6M534.5 133.5l6 -6M535.5 126.5l6 6M535.5 132.5l6 -6M535.5 125.5l6 6M535.5 131.5l6 -6M536.5 125.5l6 6M536.5 131.5l6 -6M536.5 124.5l6 6M536.5 130.5l6 -6M540.5 123.5l6 6M540.5 129.5l6 -6M541.5 122.5l6 6M541.5 128.5l6 -6M543.5 121.5l6 6M543.5 127.5l6 -6M543.5 120.5l6 6M543.5 126.5l6 -6M545.5 120.5l6 6M545.5 126.5l6 -6M545.5 119.5l6 6M545.5 125.5l6 -6M547.5 118.5l6 6M547.5 124.5l6 -6M548.5 117.5l6 6M548.5 123.5l6 -6M549.5 116.5l6 6M549.5 122.5l6 -6M550.5 115.5l6 6M550.5 121.5l6 -6M551.5 115.5l6 6M551.5 121.5l6 -6M552.5 114.5l6 6M552.5 120.5l6 -6M553.5 114.5l6 6M553.5 120.5l6 -6M553.5 113.5l6 6M553.5 119.5l6 -6M554.5 112.5l6 6M554.5 118.5l6 -6M555.5 111.5l6 6M555.5 117.5l6 -6M557.5 110.5l6 6M557.5 116.5l6 -6M559.5 109.5l6 6M559.5 115.5l6 -6M559.5 108.5l6 6M559.5 114.5l6 -6M560.5 108.5l6 6M560.5 114.5l6 -6M561.5 107.5l6 6M561.5 113.5l6 -6M561.5 106.5l6 6M561.5 112.5l6 -6M562.5 105.5l6 6M562.5 111.5l6 -6M563.5 104.5l6 6M563.5 110.5l6 -6M564.5 104.5l6 6M564.5 110.5l6 -6M564.5 103.5l6 6M564.5 109.5l6 -6M565.5 103.5l6 6M565.5 109.5l6 -6M565.5 102.5l6 6M565.5 108.5l6 -6M565.5 101.5l6 6M565.5 107.5l6 -6M566.5 100.5l6 6M566.5 106.5l6 -6M567.5 100.5l6 6M567.5 106.5l6 -6M567.5 99.5l6 6M567.5 105.5l6 -6M568.5 99.5l6 6M568.5 105.5l6 -6M568.5 98.5l6 6M568.5 104.5l6 -6M569.5 97.5l6 6M569.5 103.5l6 -6M569.5 96.5l6 6M569.5 102.5l6 -6M570.5 96.5l6 6M570.5 102.5l6 -6M570.5 95.5l6 6M570.5 101.5l6 -6M571.5 95.5l6 6M571.5 101.5l6 -6M571.5 94.5l6 6M571.5 100.5l6 -6M571.5 93.5l6 6M571.5 99.5l6 -6M572.5 92.5l6 6M572.5 98.5l6 -6M573.5 91.5l6 6M573.5 97.5l6 -6M573.5 90.5l6 6M573.5 96.5l6 -6M574.5 90.5l6 6M574.5 96.5l6 -6M574.5 89.5l6 6M574.5 95.5l6 -6M575.5 88.5l6 6M575.5 94.5l6 -6M576.5 87.5l6 6M576.5 93.5l6 -6M577.5 86.5l6 6M577.5 92.5l6 -6M578.5 85.5l6 6M578.5 91.5l6 -6M579.5 84.5l6 6M579.5 90.5l6 -6M579.5 83.5l6 6M579.5 89.5l6 -6M579.5 82.5l6 6M579.5 88.5l6 -6M580.5 82.5l6 6M580.5 88.5l6 -6M580.5 81.5l6 6M580.5 87.5l6 -6M580.5 80.5l6 6M580.5 86.5l6 -6" stroke="#0080ff" stroke-width="1" fill="none" stroke-linecap="square"/>
<path d="M54.5 437.5 L54.5 429.5 L64.5 418.5 L67.5 405.5 L69.5 393.5 L71.5 380.5 L73.5 377.5 L74.5 371.5 L83.5 359.5 L91.5 353.5 L98.5 350.5 L107.5 348.5 L114.5 345.5 L116.5 340.5 L118.5 339.5 L123.5 334.5 L128.5 330.5 L135.5 329.5 L143.5 327.5 L151.5 324.5 L159.5 321.5 L165.5 316.5 L170.5 313.5 L178.5 312.5 L183.5 311.5 L188.5 309.5 L195.5 304.5 L205.5 299.5 L211.5 296.5 L221.5 294.5 L226.5 288.5 L230.5 285.5 L238.5 283.5 L248.5 278.5 L255.5 276.5 L258.5 274.5 L268.5 273.5 L275.5 268.5 L281.5 263.5 L294.5 261.5 L300.5 260.5 L308.5 259.5 L313.5 258.5 L318.5 257.5 L321.5 253.5 L330.5 252.5 L333.5 251.5 L340.5 245.5 L349.5 239.5 L353.5 234.5 L356.5 231.5 L370.5 227.5 L383.5 223.5 L390.5 220.5 L399.5 218.5 L415.5 214.5 L425.5 213.5 L430.5 210.5 L440.5 209.5 L453.5 208.5 L456.5 205.5 L465.5 203.5 L470.5 201.5 L473.5 200.5 L485.5 199.5 L495.5 194.5 L508.5 189.5 L520.5 186.5 L525.5 184.5 L533.5 179.5 L539.5 176.5 L545.5 168.5 L551.5 165.5 L558.5 163.5 L564.5 158.5 L568.5 152.5 L571.5 151.5 L575.5 144.5 L580.5 138.5 L584.5 131.5" stroke="#c000ff" stroke-width="1" fill="none"/>
<path d="M160 49.5H189" stroke="#ff0000" stroke-width="1" fill="none"/>
<path d="M171 49.5h7M174.5 46v7" stroke="#ff0000" stroke-width="1" fill="none" stroke-linecap="square"/>
<path d="M160 62.5H189" stroke="#00c000" stroke-width="1" fill="none"/>
<path d="M171.5 59.5l6 6M171.5 65.5l6 -6" stroke="#00c000" stroke-width="1" fill="none" stroke-linecap="square"/>
<path d="M160 75.5H189" stroke="#0080ff" stroke-width="1" fill="none"/>
<path d="M171 75.5h7M174.5 72v7M171.5 72.5l6 6M171.5 78.5l6 -6" stroke="#0080ff" stroke-width="1" fill="none" stroke-linecap="square"/>
<path d="M160 88.5H189" stroke="#c000ff" stroke-width="1" fill="none"/>
<rect x="52.5" y="39.5" width="569" height="399" fill="none" stroke="#000" stroke-width="1"/>
</svg>
<div id="labels" style="position:absolute;left:0;top:0;width:640px;height:480px;will-change:transform;">
<div class="t" style="left:275.5px;top:15px;width:120px">init&nbsp;system&nbsp;coupling</div>
<div class="t" style="left:39.5px;top:433px;width:6px">0</div>
<div class="t" style="left:27.5px;top:376px;width:18px">100</div>
<div class="t" style="left:27.5px;top:319px;width:18px">200</div>
<div class="t" style="left:27.5px;top:262px;width:18px">300</div>
<div class="t" style="left:27.5px;top:205px;width:18px">400</div>
<div class="t" style="left:27.5px;top:148px;width:18px">500</div>
<div class="t" style="left:27.5px;top:91px;width:18px">600</div>
<div class="t" style="left:27.5px;top:34px;width:18px">700</div>
<div class="t" style="left:36.5px;top:447px;width:30px">11/05</div>
<div class="t" style="left:36.5px;top:460px;width:30px">00:00</div>
<div class="t" style="left:74.5px;top:447px;width:30px">11/06</div>
<div class="t" style="left:74.5px;top:460px;width:30px">00:00</div>
<div class="t" style="left:112.5px;top:447px;width:30px">11/07</div>
<div class="t" style="left:112.5px;top:460px;width:30px">00:00</div>
<div class="t" style="left:150.5px;top:447px;width:30px">11/08</div>
<div class="t" style="left:150.5px;top:460px;width:30px">00:00</div>
<div class="t" style="left:188.5px;top:447px;width:30px">11/09</div>
<div class="t" style="left:188.5px;top:460px;width:30px">00:00</div>
<div class="t" style="left:226.5px;top:447px;width:30px">11/10</div>
<div class="t" style="left:226.5px;top:460px;width:30px">00:00</div>
<div class="t" style="left:264.5px;top:447px;width:30px">11/11</div>
<div class="t" style="left:264.5px;top:460px;width:30px">00:00</div>
<div class="t" style="left:302.5px;top:447px;width:30px">11/12</div>
<div class="t" style="left:302.5px;top:460px;width:30px">00:00</div>
<div class="t" style="left:339.5px;top:447px;width:30px">11/13</div>
<div class="t" style="left:339.5px;top:460px;width:30px">00:00</div>
<div class="t" style="left:377.5px;top:447px;width:30px">11/14</div>
<div class="t" style="left:377.5px;top:460px;width:30px">00:00</div>
<div class="t" style="left:415.5px;top:447px;width:30px">11/15</div>
<div class="t" style="left:415.5px;top:460px;width:30px">00:00</div>
<div class="t" style="left:453.5px;top:447px;width:30px">11/16</div>
<div class="t" style="left:453.5px;top:460px;width:30px">00:00</div>
<div class="t" style="left:491.5px;top:447px;width:30px">11/17</div>
<div class="t" style="left:491.5px;top:460px;width:30px">00:00</div>
<div class="t" style="left:529.5px;top:447px;width:30px">11/18</div>
<div class="t" style="left:529.5px;top:460px;width:30px">00:00</div>
<div class="t" style="left:567.5px;top:447px;width:30px">11/19</div>
<div class="t" style="left:567.5px;top:460px;width:30px">00:00</div>
<div class="t" style="left:605.5px;top:447px;width:30px">11/20</div>
<div class="t" style="left:605.5px;top:460px;width:30px">00:00</div>
<div class="t" style="left:290px;top:465.5px;width:90px">Date/Time&nbsp;(UTC)</div>
<div class="t" style="left:57px;top:44px;width:96px">Rejected&nbsp;Ballots</div>
<div class="t" style="left:75px;top:57px;width:78px">Vote&nbsp;Tallied,</div>
<div class="t" style="left:57px;top:70px;width:96px">Received&nbsp;Ballots</div>
<div class="t" style="left:57px;top:83px;width:96px">Acknowledgements</div>
<div class="t" style="left:-10px;top:234px;width:42px;transform:rotate(-90deg);transform-origin:50% 50%">Ballots</div>
</div>
</body></html>
